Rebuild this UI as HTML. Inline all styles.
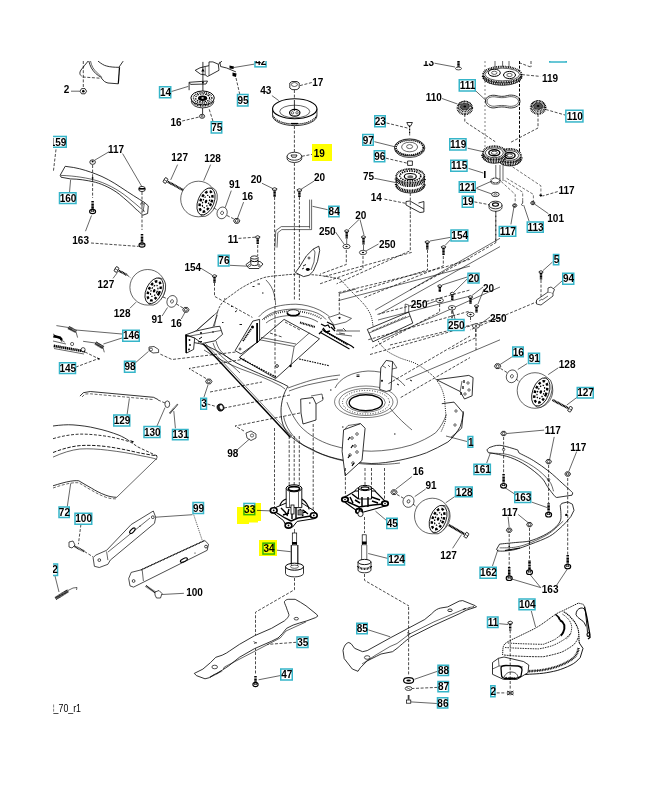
<!DOCTYPE html>
<html><head><meta charset="utf-8"><style>
html,body{margin:0;padding:0;background:#fff;overflow:hidden;}
svg{display:block;font-family:"Liberation Sans",sans-serif;}
</style></head><body>
<svg width="652" height="800" viewBox="0 0 652 800">
<rect width="652" height="800" fill="#fff"/>
<style>
.l{stroke:#000;stroke-width:0.8;fill:none}
.t{stroke:#000;stroke-width:0.6;fill:none}
.k{stroke:#000;stroke-width:1.2;fill:none}
.d{stroke:#000;stroke-width:0.7;fill:none;stroke-dasharray:3 1.6}
.w{stroke:#000;stroke-width:0.8;fill:#fff}
.b{fill:#000;stroke:none}
.g{stroke:#000;stroke-width:0.8;fill:#ddd}
</style>
<!-- top-left chute piece + nut 2 -->
<g id="tl">
<path class="d" d="M83.3,61 V88"/>
<path class="l" d="M88.8,61 C90,66 92,70 95.6,73.4 C97.5,75 99.5,76.5 101.7,77.7"/>
<path class="t" d="M90.5,61 C91.5,66 93.5,69.5 97,72.5 C98.5,74 100,75.5 101.7,77.2"/>
<path class="l" d="M88.2,61 C86,64 83,67 81,70 C79,73 80,75 81.5,76"/>
<path class="d" d="M82.7,77 L101.7,78.3"/>
<path class="l" d="M101.7,78.3 C103.5,81 105,82.3 108,83 L118.3,83.8"/>
<path class="k" d="M119.5,67.3 L118.3,83.8"/>
<path class="l" d="M98,61.1 C101,63.5 104,65.5 106.6,66 C110,67 114,67.3 118.9,67.3 L123.2,61.1"/>
<polygon points="86.6,91.2 85,93.8 81.6,93.8 80,91.2 81.6,88.6 85,88.6" fill="#fff" stroke="#000" stroke-width="0.8"/><circle class="b" cx="83.3" cy="91.2" r="1.3"/>
<path class="t" d="M71,91.2 H79.8"/>
</g>
<!-- handle 160 -->
<g id="h160">
<path class="w" d="M65.2,166.3 L73.7,167.5 C82,169 89,171.5 95.6,173.9 C104,177 113,182 120.9,187.4 C130,193.5 138,198.5 144.5,202.5 L148.3,205.9 L147.6,213.5 L142.9,215.2 C140,213 138.5,211 136.1,209.3 C131,204 125,199 119.2,194.1 C111,188 103,184.5 95.6,182.3 C86,180 78,179 70.3,178.9 L61,177.2 L60.2,175.2 Z"/>
<path class="t" d="M61,175.4 C75,175.8 88,178 98,181 C110,185 122,192 132,201 C136,204 140,208 144.8,211.5"/>
<path class="t" d="M144.5,202.5 L143,212"/>
<circle class="b" cx="92.6" cy="178" r="0.9"/><circle class="t" cx="142" cy="204" r="1.3"/>
<path class="d" d="M92.6,165 V198"/><path class="d" d="M142,192 V230"/>
<ellipse class="w" cx="92.6" cy="162.1" rx="2.8" ry="2.3"/><circle class="b" cx="92.6" cy="161.6" r="1"/>
<ellipse class="w" cx="142" cy="189" rx="3.4" ry="2.6"/><path class="b" d="M139,188 h6 v1.6 h-6z"/>
<path class="t" d="M108.8,151.9 L95,160"/><path class="t" d="M122.6,153.6 L141.5,186"/>


<path class="t" d="M85.5,231.2 L91.5,215.5"/><path class="d" d="M91,243 L138.6,246.4"/>
<path class="t" d="M69.5,192.4 L70.6,179.8"/>
<path class="d" d="M56,149.4 L53.4,171.3"/>
</g>
<!-- bracket 42/95, idler 75 -->
<g id="idler">
<path class="w" d="M195.2,70.3 L200,67.8 L205.2,66.5 L209,65.7 L209,61.9 L212.9,61.9 L218.3,64.2 L219,70.3 L207.5,76.5 L205.2,74.9 L200.6,74.2 Z"/>
<path class="t" d="M209,65.7 L209,75.5 M205.2,66.5 L205.2,74.9"/>
<path class="l" d="M219.8,61.9 L220.6,66.5 L226.7,68 L235.9,71.9 M218.3,64.2 L222,61"/>
<path d="M229.5,65.5 L234,66.5 L233.5,69 L229.5,68.5 Z" fill="#000"/>
<path d="M232.5,72.5 L236.5,73.5 L236,77 L232.5,76 Z" fill="#000"/>
<path class="t" d="M234,67.5 L254,64.2"/>
<path class="d" d="M236,78 L239.7,94"/>
<path class="l" d="M202.9,61.9 V91"/>
<path class="b" d="M201.2,71.5 L202.9,68.5 L204.6,71.5 Z"/>
<path class="l" d="M189.1,82.3 L207.5,81 L206,84 L190.6,84.4 Z M189.1,82.5 V90.2"/>
<circle class="b" cx="202.9" cy="82.6" r="0.9"/>
<path class="t" d="M171.5,91.5 L188.3,86.4"/>
<ellipse class="w" cx="202.6" cy="101.3" rx="11.2" ry="6.6"/>
<path style="stroke-width:1.6;stroke-dasharray:0.9 0.7" class="k" d="M191.6,99.5 C193,103.5 196,105.5 202.6,106 C209,105.5 212,103.5 213.6,99.5"/>
<ellipse class="w" cx="202.6" cy="97.9" rx="11.7" ry="6.9" style="stroke-width:1"/>
<ellipse cx="202.6" cy="97.9" rx="9.2" ry="5.3" fill="none" stroke="#000" stroke-width="1.4" stroke-dasharray="0.9 0.9"/>
<ellipse cx="202.6" cy="97.9" rx="7" ry="4" fill="none" stroke="#000" stroke-width="1.1" stroke-dasharray="1.6 1"/>
<ellipse class="b" cx="202.6" cy="98.2" rx="4.6" ry="2.8"/>
<ellipse cx="202.6" cy="98" rx="1.3" ry="0.8" fill="#fff"/>
<path class="l" d="M202.6,108 V114"/>
<ellipse class="w" cx="202.1" cy="116.3" rx="2.6" ry="2"/><circle class="t" cx="202.1" cy="116.3" r="0.9"/>
<path class="d" d="M182.2,121 L199.1,117"/>
<path class="d" d="M212.9,121 L209,108.6"/>
</g>
<!-- pulley 43 / nut 17 / washer 19 -->
<g id="p43">
<path class="d" d="M294.4,90 V104"/>
<path class="w" d="M289.8,83 L292,81.5 L297,81.5 L299.2,83 L299.2,88 L297,89.6 L292,89.6 L289.8,88 Z"/>
<ellipse class="t" cx="294.4" cy="84.5" rx="3" ry="2"/>
<path class="d" d="M300,85.6 L311.9,82.5"/>
<path class="w" d="M272.55,108.75 V115.6 A22.2,10 0 0 0 316.95,115.6 V108.75 Z"/>
<path style="stroke-dasharray:1.2 0.8" class="k" d="M273,115.6 A22,10 0 0 0 316.5,115.6"/>
<ellipse style="stroke-width:1.1" class="w" cx="294.75" cy="108.75" rx="22.2" ry="10"/>
<ellipse class="t" cx="294.75" cy="111.5" rx="15" ry="6.3"/>
<ellipse style="stroke-width:1.2" class="w" cx="294.75" cy="112.8" rx="5.2" ry="3.4"/>
<circle class="t" cx="292.5" cy="112.8" r="1.2"/><circle class="t" cx="297" cy="112.8" r="1.2"/>
<path class="l" d="M294.4,100 V111"/>
<path class="k" d="M291,123.5 h7"/>
<path class="d" d="M294.4,126 V152"/>
<path class="l" d="M287.1,156.25 V158.5 A7.3,4 0 0 0 301.7,158.5 V156.25"/>
<ellipse class="w" cx="294.4" cy="156.25" rx="7.3" ry="4"/>
<path class="l" d="M291,155 h6 l-1,2.2 h-4z"/>
<path class="d" d="M301.9,156.25 L311.9,154.4"/>
<path class="d" d="M294.4,163 V300"/>
<path class="d" d="M274.6,197 V300"/>
<path class="d" d="M299.4,197 V300"/>


<path class="t" d="M261.9,183.2 L272.9,188.6"/><path class="t" d="M314.2,181 L300.7,189.5"/>
<path class="t" d="M309.6,199.6 V228.6 M311.6,199.6 V229.6"/>
<path class="t" d="M309.6,226.6 L281.3,226.6 L275.8,230.6 L274.9,247.6 M311.6,229.6 L281.8,229.6 L277.8,232.6 L277,247.6"/>
<path class="t" d="M327.7,209.7 L312.5,206.3"/>

<path class="d" d="M238.5,238.4 L255.2,237.2"/>
<path class="d" d="M257.7,245 V256"/>
<path class="w" d="M246,264.5 L250,261.5 L260,261.5 L263,264 L259,268.5 L249,268.5 Z"/>
<circle cx="249.5" cy="265.5" r="1" fill="none" stroke="#000" stroke-width="0.6"/><circle cx="259" cy="265.5" r="1" fill="none" stroke="#000" stroke-width="0.6"/>
<path class="w" d="M250.8,257.5 V264 A3.6,1.6 0 0 0 258,264 V257.5 Z"/>
<ellipse class="w" cx="254.4" cy="257.5" rx="3.6" ry="1.6"/>
<path d="M250.8,260 A3.6,1.6 0 0 0 258,260" fill="none" stroke="#000" stroke-width="1"/>
<path class="t" d="M230,265.3 L247.5,266.2"/>
</g>
<!-- 23/97/96/75/14 stack -->
<g id="stack2">
<path class="d" d="M386.6,123 L407.4,128"/>
<path style="stroke-dasharray:0.9 0.6" class="k" d="M409.6,126 V135.2"/>
<path class="w" d="M406.8,122.5 L412.4,122.5 L410.8,125.8 L408.4,125.8 Z"/>
<ellipse class="w" cx="409.6" cy="148.4" rx="15.1" ry="9"/>
<ellipse class="w" cx="409.6" cy="147.4" rx="15.1" ry="8.5"/><ellipse cx="409.6" cy="147.6" rx="13.6" ry="7.4" fill="none" stroke="#000" stroke-width="1.6" stroke-dasharray="1.2 0.8"/>
<ellipse class="t" cx="409.6" cy="147" rx="8" ry="4.8"/>
<ellipse class="t" cx="409.6" cy="146.6" rx="3" ry="2"/>
<path class="t" d="M374.4,141.7 L394.5,146.7"/>
<path class="d" d="M385.9,158.2 L407.4,163.2"/>
<path class="w" d="M407.6,161 h4.8 v4.4 h-4.8z"/>
<path class="t" d="M374.4,178.3 L395.9,182.6"/>
<path d="M396.3,176 V186 A14,7 0 0 0 424.3,186 V176 Z" fill="#fff" stroke="#000" stroke-width="0.8"/>
<path d="M396.3,178.5 A14,7 0 0 0 424.3,178.5" fill="none" stroke="#000" stroke-width="3.2" stroke-dasharray="1 0.7"/>
<path d="M396.3,184 A14,7 0 0 0 424.3,184" fill="none" stroke="#000" stroke-width="3" stroke-dasharray="1 0.7"/>
<ellipse cx="410.3" cy="176" rx="14" ry="7" fill="#fff" stroke="#000" stroke-width="1.8" stroke-dasharray="1 0.6"/>
<ellipse cx="410.3" cy="176" rx="10.5" ry="5" fill="none" stroke="#000" stroke-width="1.6" stroke-dasharray="1.4 1"/>
<ellipse cx="410.3" cy="176.5" rx="6" ry="3" fill="#fff" stroke="#000" stroke-width="1.2"/>
<ellipse cx="410.3" cy="176.8" rx="3" ry="1.6" fill="#666"/>
<path class="d" d="M410.3,193 V215"/>
<path class="d" d="M384.4,199.1 L406,203.4"/>
<path class="l" d="M406,201.5 L410,201 L423.9,209 L423.9,212 L420,212.5 L406,205 Z M418.5,203 L423.9,201.5 V209"/>
</g>
<path d="M167.8,181.7 L183,190" stroke="#000" stroke-width="2.3" stroke-dasharray="1.1 0.4"/>
<g transform="translate(165.5,180.5) rotate(28.5)"><rect x="-1.6" y="-2.6" width="3.2" height="5.2" rx="0.8" fill="#fff" stroke="#000" stroke-width="0.8"/><path d="M-1.6,0 h3.2" stroke="#000" stroke-width="0.5"/></g>
<path class="d" d="M183,190 L196,196"/>
<circle cx="198.5" cy="199" r="17.8" fill="#fff" stroke="#000" stroke-width="0.6"/>
<g transform="translate(206.0,201.5) rotate(22)"><ellipse cx="1.8" rx="8.5" ry="15" fill="#fff" stroke="#000" stroke-width="0.6"/><ellipse rx="8" ry="14.2" fill="#fff" stroke="#000" stroke-width="0.8"/><ellipse rx="5.4" ry="10.8" fill="none" stroke="#000" stroke-width="2.4" stroke-dasharray="2.6 2.2"/><ellipse rx="3" ry="6.5" fill="none" stroke="#000" stroke-width="1.2" stroke-dasharray="1.5 1.5"/><ellipse rx="1.2" ry="1.8" fill="#000"/></g>
<path class="d" d="M214,208 L218,210.5"/>
<g transform="translate(222.1,212.9) rotate(20)"><ellipse rx="5" ry="6" fill="#fff" stroke="#000" stroke-width="0.6"/><ellipse rx="1.4" ry="1.7" fill="none" stroke="#000" stroke-width="0.6"/></g>
<path class="d" d="M227,215.5 L234,219"/>
<polygon points="239.90,220.90 238.30,223.26 235.10,223.26 233.50,220.90 235.10,218.54 238.30,218.54" fill="#fff" stroke="#000" stroke-width="0.8"/><circle cx="236.7" cy="220.9" r="1.44" fill="none" stroke="#000" stroke-width="0.7"/>
<path class="t" d="M177.6,164.6 L170.7,179.9"/>
<path class="t" d="M210.6,164.6 L203.7,180.7"/>
<path class="t" d="M231.3,190.6 L225.2,207.5"/>
<path class="t" d="M243.6,202.1 L237.5,218.3"/>
<path d="M118.8,270.7 L127,275" stroke="#000" stroke-width="2.3" stroke-dasharray="1.1 0.4"/>
<g transform="translate(116.5,269.5) rotate(27.6)"><rect x="-1.6" y="-2.6" width="3.2" height="5.2" rx="0.8" fill="#fff" stroke="#000" stroke-width="0.8"/><path d="M-1.6,0 h3.2" stroke="#000" stroke-width="0.5"/></g>
<path class="d" d="M127,275 L131,278"/>
<circle cx="147.7" cy="287.3" r="17.8" fill="#fff" stroke="#000" stroke-width="0.6"/>
<g transform="translate(154.2,290.8) rotate(25)"><ellipse cx="1.8" rx="8.5" ry="14.5" fill="#fff" stroke="#000" stroke-width="0.6"/><ellipse rx="8" ry="13.7" fill="#fff" stroke="#000" stroke-width="0.8"/><ellipse rx="5.4" ry="10.3" fill="none" stroke="#000" stroke-width="2.4" stroke-dasharray="2.6 2.2"/><ellipse rx="3" ry="6.0" fill="none" stroke="#000" stroke-width="1.2" stroke-dasharray="1.5 1.5"/><ellipse rx="1.2" ry="1.8" fill="#000"/></g>
<path class="d" d="M163,297 L168,299"/>
<g transform="translate(172,301.4) rotate(20)"><ellipse rx="5" ry="6" fill="#fff" stroke="#000" stroke-width="0.6"/><ellipse rx="1.4" ry="1.7" fill="none" stroke="#000" stroke-width="0.6"/></g>
<path class="d" d="M176.5,304 L183,308"/>
<polygon points="189.10,309.80 187.50,312.16 184.30,312.16 182.70,309.80 184.30,307.44 187.50,307.44" fill="#fff" stroke="#000" stroke-width="0.8"/><circle cx="185.9" cy="309.8" r="1.44" fill="none" stroke="#000" stroke-width="0.7"/>
<path class="t" d="M113,278.4 L117.6,272.3"/>
<path class="t" d="M129.9,308.3 L136,302.2"/>
<path class="t" d="M162.1,316 L167.5,307.5"/>
<path class="t" d="M181.3,319 L185.1,312.1"/>
<polygon points="500.80,366.20 499.20,368.56 496.00,368.56 494.40,366.20 496.00,363.84 499.20,363.84" fill="#fff" stroke="#000" stroke-width="0.8"/><circle cx="497.6" cy="366.2" r="1.44" fill="none" stroke="#000" stroke-width="0.7"/>
<path class="d" d="M500.5,368.5 L507,372.5"/>
<g transform="translate(511.9,376.3) rotate(20)"><ellipse rx="5.5" ry="6.5" fill="#fff" stroke="#000" stroke-width="0.6"/><ellipse rx="1.4" ry="1.7" fill="none" stroke="#000" stroke-width="0.6"/></g>
<path class="d" d="M516,379 L521,383"/>
<circle cx="535" cy="390.5" r="17.8" fill="#fff" stroke="#000" stroke-width="0.6"/>
<g transform="translate(540.8,392.0) rotate(20)"><ellipse cx="1.8" rx="8.7" ry="15.5" fill="#fff" stroke="#000" stroke-width="0.6"/><ellipse rx="8.2" ry="14.7" fill="#fff" stroke="#000" stroke-width="0.8"/><ellipse rx="5.6" ry="11.3" fill="none" stroke="#000" stroke-width="2.4" stroke-dasharray="2.6 2.2"/><ellipse rx="3.1999999999999993" ry="7.0" fill="none" stroke="#000" stroke-width="1.2" stroke-dasharray="1.5 1.5"/><ellipse rx="1.2" ry="1.8" fill="#000"/></g>
<path d="M567.8,408.0 L552.4,399.9" stroke="#000" stroke-width="2.3" stroke-dasharray="1.1 0.4"/>
<g transform="translate(570.1,409.2) rotate(-152.3)"><rect x="-1.6" y="-2.6" width="3.2" height="5.2" rx="0.8" fill="#fff" stroke="#000" stroke-width="0.8"/><path d="M-1.6,0 h3.2" stroke="#000" stroke-width="0.5"/></g>
<path class="t" d="M511.9,356.9 L500.1,364.5"/>
<path class="t" d="M527.1,363.6 L517.8,369.5"/>
<path class="t" d="M558.3,367.8 L548.2,374.6"/>
<path class="t" d="M576.9,397.4 L566.8,405"/>
<polygon points="397.20,492.20 395.60,494.56 392.40,494.56 390.80,492.20 392.40,489.84 395.60,489.84" fill="#fff" stroke="#000" stroke-width="0.8"/><circle cx="394" cy="492.2" r="1.44" fill="none" stroke="#000" stroke-width="0.7"/>
<path class="d" d="M397,494.5 L404,498.5"/>
<g transform="translate(408.5,501.4) rotate(20)"><ellipse rx="5.5" ry="6" fill="#fff" stroke="#000" stroke-width="0.6"/><ellipse rx="1.4" ry="1.7" fill="none" stroke="#000" stroke-width="0.6"/></g>
<path class="d" d="M413,504 L418,508"/>
<circle cx="432.3" cy="516" r="17.8" fill="#fff" stroke="#000" stroke-width="0.6"/>
<g transform="translate(438.1,519.0) rotate(20)"><ellipse cx="1.8" rx="8.5" ry="15" fill="#fff" stroke="#000" stroke-width="0.6"/><ellipse rx="8" ry="14.2" fill="#fff" stroke="#000" stroke-width="0.8"/><ellipse rx="5.4" ry="10.8" fill="none" stroke="#000" stroke-width="2.4" stroke-dasharray="2.6 2.2"/><ellipse rx="3" ry="6.5" fill="none" stroke="#000" stroke-width="1.2" stroke-dasharray="1.5 1.5"/><ellipse rx="1.2" ry="1.8" fill="#000"/></g>
<path d="M464.1,533.9 L448.5,524.9" stroke="#000" stroke-width="2.3" stroke-dasharray="1.1 0.4"/>
<g transform="translate(466.4,535.2) rotate(-150.1)"><rect x="-1.6" y="-2.6" width="3.2" height="5.2" rx="0.8" fill="#fff" stroke="#000" stroke-width="0.8"/><path d="M-1.6,0 h3.2" stroke="#000" stroke-width="0.5"/></g>
<path class="t" d="M411.9,476.6 L396,489"/>
<path class="t" d="M425.7,489 L414.7,496.6"/>
<path class="t" d="M454.7,496.6 L445.7,502.8"/>
<path class="t" d="M452.6,548.3 L461.6,534.5"/>
<path d="M92.6,201 V210" stroke="#000" stroke-width="2.5" stroke-dasharray="1.1 0.35"/>
<ellipse cx="92.6" cy="211.5" rx="3" ry="2.1" fill="#fff" stroke="#000" stroke-width="1.1"/>
<path d="M90.8,211.2 h3.5999999999999996 M91.69999999999999,210 v1.7999999999999998 M93.5,210 v1.7999999999999998" stroke="#000" stroke-width="0.7"/>
<path d="M274.6,190.2 V197" stroke="#000" stroke-width="2.4" stroke-dasharray="1.2 0.3"/>
<path d="M272.3,188.66 Q274.6,186.68 276.90000000000003,188.66 L276.44,190.2 L272.76000000000005,190.2 Z" fill="#fff" stroke="#000" stroke-width="0.8"/>
<path d="M299.4,191.2 V197" stroke="#000" stroke-width="2.4" stroke-dasharray="1.2 0.3"/>
<path d="M297.09999999999997,189.66 Q299.4,187.68 301.7,189.66 L301.23999999999995,191.2 L297.56,191.2 Z" fill="#fff" stroke="#000" stroke-width="0.8"/>
<path d="M257.7,238.2 V244.3" stroke="#000" stroke-width="2.4" stroke-dasharray="1.2 0.3"/>
<path d="M255.5,236.66 Q257.7,234.68 259.9,236.66 L259.46,238.2 L255.94,238.2 Z" fill="#fff" stroke="#000" stroke-width="0.8"/>
<path d="M142,234 V243.5" stroke="#000" stroke-width="2.5" stroke-dasharray="1.1 0.35"/>
<ellipse cx="142" cy="245.0" rx="3" ry="2.1" fill="#fff" stroke="#000" stroke-width="1.1"/>
<path d="M140.2,244.7 h3.5999999999999996 M141.1,243.5 v1.7999999999999998 M142.9,243.5 v1.7999999999999998" stroke="#000" stroke-width="0.7"/>
<path class="t" d="M271.9,95.6 L278.75,100.6"/><g id="deck">
<!-- outer top arc of deck (left lobe) -->
<path class="t" style="stroke-dasharray:2.6 1.1;stroke-width:0.7" d="M217.5,312 C219,307 221,304 223,301.8 C227,298 230,296 234.1,293.2 C238,290 242,287.5 246.3,285.2 C252,282 258,279.5 265,277.3 C269,276.5 273,276 276,275.8 C279,275.5 281,275.4 282,275.3 C288,274.5 293,274.2 298.1,274.2 C306,274.3 312,274.6 318.8,275.3 C326,276.3 333,277.5 340,279"/>

<path class="t" d="M217.5,312 L197.3,330 L187.5,336.2 M217.5,312 L216.3,316.5 L214.4,326.3"/>
<!-- dome line -->
<path class="t" d="M265.9,279.9 C270,284 273,289 274,293.7 C275,298 275.6,302 275.6,305.2"/>

<path d="M340.0,279.0 C341.8,280.9 347.3,287.1 350.7,290.7 C354.1,294.3 357.6,297.4 360.4,300.4 C363.2,303.4 365.5,305.9 367.3,308.7 C369.1,311.5 370.4,313.8 371.4,317.0 C372.4,320.2 372.6,324.5 373.5,328.0 C374.4,331.5 374.6,334.4 376.5,338.0 C378.4,341.6 381.4,346.2 385.2,349.5 C388.9,352.8 393.9,355.1 399.0,357.5 C404.1,359.9 410.6,360.9 416.0,363.7 C421.4,366.5 427.5,371.2 431.3,374.5 C435.1,377.8 436.9,380.4 439.0,383.7 C441.1,387.0 442.6,390.6 443.6,394.4 C444.6,398.2 444.9,402.4 445.2,406.7 C445.5,411.0 446.2,415.8 445.5,420.0 C444.8,424.2 441.8,430.0 441.0,432.0" fill="none" stroke="#000" stroke-width="0.85" stroke-dasharray="1.1 1.1"/>
<!-- right flange -->
<path class="l" d="M441.8,403.7 L454,402.1 L463.3,412.9 L461.7,428.2 L451,437.4"/>
<circle class="t" cx="456" cy="411" r="1.2"/><circle class="t" cx="455" cy="425" r="1.2"/>
<!-- outer big bottom curve -->
<path class="l" d="M309.9,448.2 C318,453 327,456.5 337.5,458.9 C348,461.5 360,463 371.2,463.5 C381,463.5 390,462 398.8,460.4 C408,458.5 418,456 426.4,452.8 C434,449.5 441,446 447.9,442 C453,438 457,432 460.2,426.7 C462,421 463,416 463.3,411.3"/>
<path class="t" d="M283.5,416 C285.5,427 292,437 304,445.5 C318,454.5 338,460.5 355,463 C368,465 385,465 400,463"/>
<!-- inner surface edge -->
<path class="t" d="M286.9,402.1 C291,413 295,420 300.7,426.7 C309,435 319,441 331.3,445.1 C344,449 357,451 371.2,451.2 C385,451 398,449 411.1,445.1 C421,441.5 429,437.5 435.6,432.8 C441,427 444,421 446.4,414.4"/>
<!-- spindle opening right -->
<ellipse cx="366" cy="401.8" rx="31.5" ry="15.8" fill="none" stroke="#000" stroke-width="0.5"/>
<ellipse cx="366" cy="402" rx="27" ry="13.5" fill="none" stroke="#000" stroke-width="0.5"/>
<ellipse cx="366" cy="402.2" rx="23.5" ry="11.8" fill="none" stroke="#000" stroke-width="0.9" stroke-dasharray="0.8 1.8"/>
<ellipse cx="365.8" cy="402.8" rx="16.6" ry="8" fill="none" stroke="#000" stroke-width="1.4"/>
<ellipse cx="365.8" cy="402.6" rx="19.5" ry="9.6" fill="none" stroke="#000" stroke-width="0.5"/>
<path class="t" d="M335,388 C340,378 352,372 368,371 C385,371 398,377 405,386"/>
<path class="t" d="M390,408 C398,418 405,424 412,430"/>
<!-- bottom vertical bracket w holes -->
<path class="w" d="M342.1,451.2 L343.6,429.8 L360.5,423.6 L365.1,428.2 L362,460.4 L345.2,475.8 Z"/>
<path class="t" d="M345,429 L348,425.5 L360.5,423.6"/>
<circle class="t" cx="352" cy="438" r="1.3"/><circle class="t" cx="355" cy="446" r="1.3"/><circle class="t" cx="350" cy="455" r="1.3"/><circle class="t" cx="353" cy="463" r="1.3"/><circle class="t" cx="357" cy="434" r="1.3"/><circle class="t" cx="357" cy="452" r="1.3"/>
<path class="k" d="M348,440 l2,-3 M351,448 l2,-3 M348,458 l2,-3 M352,466 l2,-3"/>
<!-- right angled bracket (upper right of right lobe) -->
<path class="w" d="M436.6,379.7 L468.8,375.4 L473.1,377.6 L472.1,395.8 L464.5,399 L460.2,391.5 L443.1,383 Z"/>

<circle class="t" cx="468" cy="383" r="1.2"/><circle class="t" cx="469" cy="390" r="1.2"/><circle class="t" cx="465" cy="394" r="1.2"/>
<path class="k" d="M464,380 v3 M463,386 v3 M461,392 v3"/><path class="t" d="M460.2,391.5 L462,381"/>
<!-- left vertical bracket in deck (near 300,400) -->
<path class="w" d="M300.7,399.1 L313,397.5 L316,404 L316,420 L303,424 L301,413 Z"/>
<path class="t" d="M311,396 L322,394 L323,400 L316,404"/>
<!-- upright bracket near (368,330) -->
<path class="w" d="M380.8,367.9 L386.2,360.4 L392.6,361.5 L391,390 L386.2,391.5 L379.7,389.4 Z"/>
<path class="t" d="M392.6,361.5 L396.9,367.9 L392,369 M383,366 l3,2 M388,365 l2,2"/>
<!-- angle iron right of spindle -->
<path class="w" d="M367.3,329.4 L405,313.6 L408.7,312.1 L412.8,323.1 L372.8,341.8 Z"/>
<path class="t" d="M405.2,304 L408.7,305 L408.7,312.1 M405.2,304 L405,313.6 M369,333 L410,316" /><path d="M372,331 L406,316.5" stroke="#000" stroke-width="1.1" stroke-dasharray="0.6 0.9"/>
<!-- left lobe lower skirt -->
<path class="l" d="M190,342 C197,343 203,344 208.4,346.6 C218,351 226,356 236,362.7 C246,368 256,372 265.9,376.5 C275,380 282,383 288,386.4"/>
<path class="t" d="M204,350 C215,357 228,364 241,369 C255,374 268,379 281,386 L285,389"/>
<path class="l" d="M288,386.4 C284,392 281,402 281,411 C281,418 282,424 285,429 C289,436 296,441 303,445 C306,446.5 308,447.5 309.9,448.2"/>
<path class="t" d="M288,388 C296,385 305,382 312,380 C320,378 330,376 340,375"/><path class="t" d="M289,391 C297,388 306,385 314,383.5 C322,382 330,380 338,379"/>
<!-- belt guard box (tray) -->
<path class="w" d="M239.3,357.4 L284.1,319.4 L319.5,338.8 L275.6,378.5 Z"/>
<path class="t" d="M258.7,339.6 L294.2,346.4 L309.4,332.9 M294.2,346.4 L290.8,365.8 M261,337.5 L296,344"/>
<path d="M240.2,358.2 L276,377" fill="none" stroke="#000" stroke-width="1.3" stroke-dasharray="1.6 1"/>
<path d="M299.2,359 L329.6,365.8" fill="none" stroke="#000" stroke-width="1.1" stroke-dasharray="1.6 1"/>
<path class="d" d="M270,333 L282,337 M285,322 L300,330"/>
<circle cx="277" cy="366" r="1.4" fill="#fff" stroke="#000" stroke-width="0.8"/><circle cx="290.5" cy="366" r="1.2" fill="#000"/>
<!-- slotted bracket -->
<path class="w" d="M235.1,350.6 L252.8,321.1 L259.6,319.4 L259.6,340.5 L241,354 Z"/>
<path d="M257.1,323 V343" stroke="#000" stroke-width="1.8"/>
<path d="M243,341 L251,329" fill="none" stroke="#000" stroke-width="1.8" stroke-dasharray="1.2 0.7"/>
<circle cx="252.5" cy="327" r="1.5" fill="#000"/><circle cx="240" cy="349" r="1" fill="none" stroke="#000" stroke-width="0.7"/>
<!-- left bracket -->
<path class="w" d="M185.6,334.9 L195.8,331.1 L215.1,326.8 L219.9,326.3 L222.6,334.3 L215.1,340.8 L202.2,343.5 L194.7,338.1 Z"/>
<path class="w" d="M185.6,334.9 L194.7,338.1 L193.6,349.4 L186.5,353.1 Z"/>
<path d="M186.2,335 V353" stroke="#000" stroke-width="1.6"/>
<path class="t" d="M187,336.5 L221,330.5"/>
<circle cx="189.5" cy="340" r="0.9" fill="#000"/><circle cx="190" cy="345" r="0.9" fill="#000"/><circle cx="189" cy="349.5" r="0.9" fill="#000"/>
<path d="M199,339 l3,-2 M198,342 l4,-0.5" stroke="#000" stroke-width="1"/>
<circle cx="201" cy="333" r="1" fill="#000"/><circle cx="213" cy="332" r="0.8" fill="#000"/>
<path class="t" d="M196.9,330 L214,315 M213,326.8 L217.3,315"/>
<path class="t" d="M213,342.9 C214,346 215,348 216.2,350.4 C219,354 222,357 225.9,360.1 C230,364 235,368 240,373 M216,341 C217,345 218.5,348 220,350 C223,354 227,357 231,360"/>
<!-- inner ring top (spindle housing top) -->
<path class="t" d="M258.7,316.9 C264,311 269,308.5 275.6,306.7 C282,305 289,304.2 295.9,304.2 C304,304.5 312,306.5 319.5,310.1 C324,312.5 327,314.5 329.6,316.9"/>
<path class="t" d="M262,320 C267,315 272,312.5 278,311 C284,309.5 290,309 296,309 C304,309.2 311,310.5 317,313 C321,315 324,317 326,319.5"/>
<path d="M264,319 C270,314.5 278,312 290,311 C302,311 312,313 322,319" fill="none" stroke="#000" stroke-width="1.6" stroke-dasharray="0.8 1.4"/>
<path class="t" d="M266,323 C272,318 280,316 290,315.5 C300,315.5 310,317 318,322"/>
<ellipse cx="293.3" cy="312.7" rx="6" ry="3" fill="#fff" stroke="#000" stroke-width="0.8"/>
<path d="M287.3,312.7 A6,3 0 0 0 299.3,312.7" fill="none" stroke="#000" stroke-width="1.8"/>
<!-- diagonal rod -->
<path d="M203.3,344 L290.5,437.5" stroke="#000" stroke-width="1.4"/>
<path d="M205,343 L292,436" stroke="#000" stroke-width="0.5"/>
<!-- dashed lines in deck area -->
<path class="d" d="M214.5,283 V296.3 L252.4,317.4"/>






<path class="d" d="M275,306 V380"/>




<path class="d" d="M324.6,276.5 L412,252.3"/>
<path class="d" d="M338.4,292.6 L444.2,267.3 L470,259.2"/>
<path class="t" d="M338.4,300.6 L470,266.1"/>
<path class="d" d="M377.5,314.4 L470,290"/>
<path class="t" d="M378,320 L470,296"/>
<path class="d" d="M368.3,339.7 L470,311"/>
<path class="d" d="M390,345 L500,318"/>
<path class="d" d="M370,354.5 L470,326"/><path class="d" d="M388.4,383.7 L470,336.1"/><path class="d" d="M400.7,397.5 L470,357.6"/>
<path class="d" d="M363,256 V268.7 L320,283.8"/>
<path class="d" d="M346.3,250 V264.5 L320,274.2"/>
<path class="d" d="M427.5,250 V270 L355.9,292.1"/><path class="d" d="M443.3,256 V265.9 L364.2,297.6"/>
<path class="d" d="M410.3,215 V250.7 L336.6,283.8"/>
<path class="d" d="M495.8,209.4 V242.7 L465.8,260 L410,290"/>
<path class="d" d="M439.6,304 V312 L372,348"/>
<path class="d" d="M452,311 V325"/>
<path class="d" d="M475.7,329 V337.8 L449.8,349.8"/>
<path class="d" d="M476,329 V350"/>
<path class="d" d="M541,280 V300 L470,330"/>
<!-- small plate near 294-318,246-277 -->
<path class="w" d="M295.4,272.5 L299.5,267 L306.4,255.9 L313.3,249 L318.8,246.2 L319.7,250.4 L317.5,261.4 L313.3,271.1 L309.2,275.2 L303.6,276.6 Z"/>
<path class="t" d="M313.3,249 L315,252 L314,262 L311,270"/>
<ellipse cx="307.8" cy="269.5" rx="2" ry="1.4" fill="#000"/><circle cx="309" cy="258" r="1" fill="none" stroke="#000" stroke-width="0.7"/><path d="M303,266 l3,-1.5 M302,269 l2,-1" stroke="#000" stroke-width="0.9"/>
<!-- deck front left skirt lines and bottom-left curve to spindle -->


<path class="d" d="M339.3,293.5 V318.4"/><path class="t" d="M339.3,293.5 L356,289"/>
<path class="t" d="M375.2,310 L500,238.3"/><path class="t" d="M379.4,314.2 L500,246.6"/>
<path class="t" d="M382,339.8 L500,287"/><path class="t" d="M405.9,379.7 L500,339.8"/>
<!-- surface marks -->
<path d="M257.5,284 h2.5 M252.5,286.5 h2 M235,312 l2,-1.5 M239.5,324.5 h2.5 M224,299 h1.5 M222,322.5 h1.5 M262,293 h1.5 M231,306.5 h1.5" stroke="#000" stroke-width="0.9"/>
<path d="M356.5,375 h3 M356.5,376.5 h3 M381,380 l2,1.5 M381,381.5 l2,-1.5 M397,384 l2,1 M330,390 h1.5 M322,398 h1.5 M342,427 h1.5 M394,434 h1.5 M309,403 h1.5 M410,380 l2,1" stroke="#000" stroke-width="0.9"/>
<path class="d" d="M210,392 L262,382"/>
<!-- mechanism -->
<path d="M322,329.4 L351.5,346 L354,348 M320.5,332.5 L349.5,349" fill="none" stroke="#000" stroke-width="1.1"/>
<path d="M324,331 L348,345" fill="none" stroke="#000" stroke-width="1.6" stroke-dasharray="1.2 0.8"/>
<path d="M300,322.5 L315,327" fill="none" stroke="#000" stroke-width="2" stroke-dasharray="1 0.6"/>
<path d="M321,324 l4,2 l3,-1 l2,3 M323,328 l3,4 l4,-1 M319,334 l3,-3 M327,322 l6,3 l2,4 M331,327 l4,4" fill="none" stroke="#000" stroke-width="1.3"/>
<path d="M328.5,317.5 L339.6,313.8 L351.5,318.4 L346,322 L334,325 Z" fill="#fff" stroke="#000" stroke-width="0.6"/>
<circle cx="339.5" cy="317.8" r="1.1" fill="#000"/>
<path d="M337,330 l6,0 M339,333 l6,1 M343,328 l3,3" stroke="#000" stroke-width="0.7"/>
<path class="t" d="M336,331 L360,331 M336,334 L352,336"/>
</g>
<path d="M458.5,61.1 V68.5" stroke="#000" stroke-width="2.4" stroke-dasharray="1.2 0.3"/>
<ellipse cx="458.5" cy="68.5" rx="3" ry="1.4" fill="#fff" stroke="#000" stroke-width="0.7"/>
<path class="t" d="M434.5,63.2 L455,67" />
<path style="stroke-width:0.5;stroke-dasharray:2 2" class="d" d="M485,61 V150"/>
<path style="stroke-width:1" class="d" d="M519.5,61 V153"/>
<path class="t" d="M495,61 V67 M502.6,61 V67 M509,61 V68" />
<path class="d" d="M519,62.6 L531,67.2 M531,61 V67" />
<path d="M483.3,74.5 V77.5 A19,7.8 0 0 0 521.3,77.5 V74.5 Z" fill="#fff" stroke="#000" stroke-width="0.7"/>
<path d="M483.3,76.0 A19,7.8 0 0 0 521.3,76.0" fill="none" stroke="#000" stroke-width="3" stroke-dasharray="0.9 0.9"/>
<ellipse cx="502.3" cy="74.5" rx="19" ry="7.8" fill="#fff" stroke="#000" stroke-width="2" stroke-dasharray="0.9 0.8"/>
<ellipse cx="502.3" cy="74.5" rx="17.2" ry="6.3" fill="#fff" stroke="#000" stroke-width="0.6"/>
<ellipse cx="494.3" cy="72.8" rx="6" ry="3.6" fill="#fff" stroke="#000" stroke-width="1"/>
<ellipse cx="494.3" cy="72.8" rx="2.7" ry="1.62" fill="none" stroke="#000" stroke-width="0.6"/>
<ellipse cx="509.5" cy="75" rx="6" ry="3.6" fill="#fff" stroke="#000" stroke-width="1"/>
<ellipse cx="509.5" cy="75" rx="2.7" ry="1.62" fill="none" stroke="#000" stroke-width="0.6"/>
<path class="d" d="M521.9,74.6 L540.3,76.4" />
<path d="M485.5,101 C485.5,96.5 491,94.5 496,95.5 C499.5,96.5 504,96.8 507.5,95.5 C512.5,94.2 520,96 520,101.3 C520,106.5 513,109 507.5,107.6 C504,106.6 499.5,106.8 496,107.6 C490.5,109 485.5,106 485.5,101 Z" fill="none" stroke="#000" stroke-width="0.8"/>
<path d="M487,101 C487,97.6 491.5,96.2 496,97 C499.5,97.8 504,98 507.5,97 C512,95.8 518.5,97.5 518.5,101.3 C518.5,105.2 512.5,107.2 507.5,106 C504,105.2 499.5,105.3 496,106 C491.5,107 487,104.8 487,101 Z" fill="none" stroke="#000" stroke-width="0.6"/>
<path class="t" d="M475,90.2 L486,100.5" />
<ellipse cx="464.8" cy="108.0" rx="7.2" ry="6.12" fill="#fff" stroke="#000" stroke-width="2.2" stroke-dasharray="0.8 0.7"/>
<ellipse cx="464.8" cy="106.5" rx="6.2" ry="5.12" fill="#fff" stroke="#000" stroke-width="1.6" stroke-dasharray="0.8 0.7"/>
<ellipse cx="464.8" cy="106.5" rx="4.6" ry="3.52" fill="#555" stroke="#000" stroke-width="1.2" stroke-dasharray="0.7 0.7"/>
<ellipse cx="464.8" cy="106.5" rx="1.4" ry="1.1" fill="#000"/>
<ellipse cx="538.1" cy="107.5" rx="7.2" ry="6.12" fill="#fff" stroke="#000" stroke-width="2.2" stroke-dasharray="0.8 0.7"/>
<ellipse cx="538.1" cy="106" rx="6.2" ry="5.12" fill="#fff" stroke="#000" stroke-width="1.6" stroke-dasharray="0.8 0.7"/>
<ellipse cx="538.1" cy="106" rx="4.6" ry="3.52" fill="#555" stroke="#000" stroke-width="1.2" stroke-dasharray="0.7 0.7"/>
<ellipse cx="538.1" cy="106" rx="1.4" ry="1.1" fill="#000"/>
<path class="t" d="M442,98.5 L457.5,104" />
<path class="d" d="M545.8,109.5 L565,115" />
<path class="d" d="M464.8,114 V121.5 L495.2,141.7" />
<path class="d" d="M538,114 V128 L510,142.7" />
<path d="M498.40000000000003,155.5 V159.5 A11.2,6.5 0 0 0 520.8000000000001,159.5 V155.5 Z" fill="#fff" stroke="#000" stroke-width="0.7"/>
<path d="M498.40000000000003,157.5 A11.2,6.5 0 0 0 520.8000000000001,157.5" fill="none" stroke="#000" stroke-width="4" stroke-dasharray="0.8 0.8"/>
<ellipse cx="509.6" cy="155.5" rx="11.2" ry="6.5" fill="#fff" stroke="#000" stroke-width="2" stroke-dasharray="0.9 0.7"/>
<ellipse cx="509.6" cy="155.5" rx="9" ry="4.9" fill="#fff" stroke="#000" stroke-width="0.7"/>
<ellipse cx="509.6" cy="155.5" rx="5.5" ry="3" fill="#fff" stroke="#000" stroke-width="1.4"/>
<ellipse cx="509.6" cy="155.5" rx="3" ry="1.6" fill="none" stroke="#000" stroke-width="0.7"/>
<path d="M483.1,152.8 V156.8 A11.2,6.5 0 0 0 505.5,156.8 V152.8 Z" fill="#fff" stroke="#000" stroke-width="0.7"/>
<path d="M483.1,154.8 A11.2,6.5 0 0 0 505.5,154.8" fill="none" stroke="#000" stroke-width="4" stroke-dasharray="0.8 0.8"/>
<ellipse cx="494.3" cy="152.8" rx="11.2" ry="6.5" fill="#fff" stroke="#000" stroke-width="2" stroke-dasharray="0.9 0.7"/>
<ellipse cx="494.3" cy="152.8" rx="9" ry="4.9" fill="#fff" stroke="#000" stroke-width="0.7"/>
<ellipse cx="494.3" cy="152.8" rx="5.5" ry="3" fill="#fff" stroke="#000" stroke-width="1.4"/>
<ellipse cx="494.3" cy="152.8" rx="3" ry="1.6" fill="none" stroke="#000" stroke-width="0.7"/>
<path class="t" d="M467.6,148.2 L484.2,151.9" />
<path class="t" d="M468.5,168.4 L483.3,173" />
<path style="stroke-width:1.6" class="k" d="M484.8,171 V178"/>
<path class="t" d="M495.8,165 V178 M500,165 V181 M503,165 V181" />
<path style="stroke-width:0.55" class="d" d="M501.2,181.5 L515.2,194.4 V203 M504.4,180.4 L522.7,192.2 V201 M506.6,178.3 L533.4,194.4 V201 M508.7,164.3 L540.9,185.8 V194"/>
<ellipse cx="495.4" cy="182" rx="4.5" ry="2.2" fill="#fff" stroke="#000" stroke-width="0.6"/><ellipse cx="495.4" cy="180.5" rx="4.5" ry="2.4" fill="#fff" stroke="#000" stroke-width="1.2" stroke-dasharray="0.8 0.6"/>
<ellipse cx="495.4" cy="194.4" rx="3.8" ry="2.2" fill="#fff" stroke="#000" stroke-width="0.8"/><ellipse cx="495.4" cy="194.4" rx="1.4" ry="0.8" fill="none" stroke="#000" stroke-width="0.5"/>
<path class="t" d="M476.5,187.9 L492,181 M476.5,188.5 L491.8,194" />
<path d="M489,205 V207.5 A6.5,3.8 0 0 0 502,207.5 V205" fill="#fff" stroke="#000" stroke-width="0.7"/><ellipse cx="495.5" cy="205" rx="6.5" ry="3.8" fill="#fff" stroke="#000" stroke-width="0.8"/><ellipse cx="495.5" cy="204.6" rx="3" ry="1.7" fill="#fff" stroke="#000" stroke-width="1.1"/>
<path class="d" d="M474.4,201.9 L489.4,204.7" />
<path class="d" d="M495.8,211 V242.7" />
<polygon points="516.90,205.50 515.80,207.12 513.60,207.12 512.50,205.50 513.60,203.88 515.80,203.88" fill="#fff" stroke="#000" stroke-width="0.8"/><circle cx="514.7" cy="205.5" r="0.99" fill="none" stroke="#000" stroke-width="0.7"/>
<path d="M522.7,201 v2 l-1.2,1.5 l1.2,1.5" fill="none" stroke="#000" stroke-width="0.7"/>
<polygon points="535.00,203.00 533.90,204.62 531.70,204.62 530.60,203.00 531.70,201.38 533.90,201.38" fill="#fff" stroke="#000" stroke-width="0.8"/><circle cx="532.8" cy="203" r="0.99" fill="none" stroke="#000" stroke-width="0.7"/>
<path d="M539,195 l2,-1 l1.6,1.8 l-2,1z" fill="#000"/>
<path class="d" d="M557.7,191.6 L542.6,196" />
<path class="t" d="M548.4,213.7 L534.5,204" />
<path class="t" d="M510.9,224.4 L514.1,206.2" />
<path class="t" d="M529.1,221.2 L523.7,205.1" />
<path d="M427.3,243 V249.5" stroke="#000" stroke-width="2.4" stroke-dasharray="1.2 0.3"/>
<path d="M425.1,241.6 Q427.3,239.8 429.5,241.6 L429.06,243 L425.54,243 Z" fill="#fff" stroke="#000" stroke-width="0.8"/>
<path d="M443.5,248 V255" stroke="#000" stroke-width="2.4" stroke-dasharray="1.2 0.3"/>
<path d="M441.3,246.6 Q443.5,244.8 445.7,246.6 L445.26,248 L441.74,248 Z" fill="#fff" stroke="#000" stroke-width="0.8"/>
<path class="t" d="M450.7,237.3 L430,241 M450.7,239.5 L445,245.5" />
<path d="M346.7,232 V238.5" stroke="#000" stroke-width="2.4" stroke-dasharray="1.2 0.3"/>
<path d="M344.7,230.6 Q346.7,228.8 348.7,230.6 L348.3,232 L345.09999999999997,232 Z" fill="#fff" stroke="#000" stroke-width="0.8"/>
<path d="M363.5,238 V244.5" stroke="#000" stroke-width="2.4" stroke-dasharray="1.2 0.3"/>
<path d="M361.5,236.6 Q363.5,234.8 365.5,236.6 L365.1,238 L361.9,238 Z" fill="#fff" stroke="#000" stroke-width="0.8"/>
<ellipse cx="346.5" cy="246.5" rx="3.6" ry="2.2" fill="#fff" stroke="#000" stroke-width="0.7"/><ellipse cx="346.5" cy="246.5" rx="1.2" ry="0.8" fill="#000"/>
<ellipse cx="363" cy="252.5" rx="3.6" ry="2.2" fill="#fff" stroke="#000" stroke-width="0.7"/><ellipse cx="363" cy="252.5" rx="1.2" ry="0.8" fill="#000"/>
<path class="t" d="M346.7,239 V244 M363.5,245 V250" />
<path class="t" d="M359,219.5 L348.5,229.5 M360,219.5 L364,235" />
<path class="t" d="M335.5,232 L344,244 M378.5,244 L366,251" />
<path d="M439.8,287 V292" stroke="#000" stroke-width="2.4" stroke-dasharray="1.2 0.3"/>
<path d="M437.8,285.6 Q439.8,283.8 441.8,285.6 L441.40000000000003,287 L438.2,287 Z" fill="#fff" stroke="#000" stroke-width="0.8"/>
<path d="M452.3,294.5 V300" stroke="#000" stroke-width="2.4" stroke-dasharray="1.2 0.3"/>
<path d="M450.3,293.1 Q452.3,291.3 454.3,293.1 L453.90000000000003,294.5 L450.7,294.5 Z" fill="#fff" stroke="#000" stroke-width="0.8"/>
<path d="M470.5,298 V304" stroke="#000" stroke-width="2.4" stroke-dasharray="1.2 0.3"/>
<path d="M468.5,296.6 Q470.5,294.8 472.5,296.6 L472.1,298 L468.9,298 Z" fill="#fff" stroke="#000" stroke-width="0.8"/>
<path d="M476.5,307 V312.5" stroke="#000" stroke-width="2.4" stroke-dasharray="1.2 0.3"/>
<path d="M474.5,305.6 Q476.5,303.8 478.5,305.6 L478.1,307 L474.9,307 Z" fill="#fff" stroke="#000" stroke-width="0.8"/>
<ellipse cx="439.8" cy="300.5" rx="3.6" ry="2.2" fill="#fff" stroke="#000" stroke-width="0.7"/><ellipse cx="439.8" cy="300.5" rx="1.2" ry="0.8" fill="#000"/>
<ellipse cx="452" cy="307.8" rx="3.6" ry="2.2" fill="#fff" stroke="#000" stroke-width="0.7"/><ellipse cx="452" cy="307.8" rx="1.2" ry="0.8" fill="#000"/>
<ellipse cx="470.5" cy="314.5" rx="3.6" ry="2.2" fill="#fff" stroke="#000" stroke-width="0.7"/><ellipse cx="470.5" cy="314.5" rx="1.2" ry="0.8" fill="#000"/>
<ellipse cx="476" cy="326" rx="3.6" ry="2.2" fill="#fff" stroke="#000" stroke-width="0.7"/><ellipse cx="476" cy="326" rx="1.2" ry="0.8" fill="#000"/>
<path class="t" d="M467.2,277 L442,285 M467.2,279 L454,292" />
<path class="t" d="M483,287 L472,295.5 M484,289 L478,304" />
<path class="t" d="M427.5,304 L436,301" />
<path class="t" d="M455,319 L452.5,310" />
<path class="t" d="M490,317 L479,325" />
<path class="d" d="M452,310.5 V318 M470.5,317 V322" />
<path d="M541,273 V279.5" stroke="#000" stroke-width="2.4" stroke-dasharray="1.2 0.3"/>
<path d="M539,271.6 Q541,269.8 543,271.6 L542.6,273 L539.4,273 Z" fill="#fff" stroke="#000" stroke-width="0.8"/>
<path class="t" d="M552.5,262 L543,270.5 M562,281 L553,289" />
<path d="M536.5,300 L548,292 L553,293 L553,296 L541,305 L536.5,304 Z" fill="#fff" stroke="#000" stroke-width="0.7"/><path d="M548,292 L548,288 L551,287 L554.5,289.5 L553,293" fill="#fff" stroke="#000" stroke-width="0.7"/><path d="M539,301 l3,-2 M542,300 l3,-2 M545,298 l3,-2" stroke="#000" stroke-width="0.6"/>
<path class="t" d="M56.4,325.6 L68.4,327.5" />
<path style="stroke-width:3.4;stroke-dasharray:0.8 0.35" class="k" d="M68.4,327.5 L76,331.5"/>
<path class="t" d="M75.8,331.2 L77.6,337.6" />
<path class="t" d="M83.1,341.3 L96,343.1" />
<path style="stroke-width:3.6;stroke-dasharray:0.8 0.35" class="k" d="M95.5,343 L103.5,347.8"/>
<path class="t" d="M103,347.5 L104.3,352.3" />
<path class="t" d="M122,334 L76,330 M122,338 L103.4,344" />
<path class="t" d="M53,333.9 L64.7,342.2 M53,337 L60,338 L62,342" />
<circle cx="72.1" cy="344" r="1.6" fill="#fff" stroke="#000" stroke-width="0.6"/>
<path style="stroke-width:2.6;stroke-dasharray:1.4 0.5" class="k" d="M53.7,345.9 L85,351.4"/>
<path style="stroke-width:2.4" class="k" d="M53.5,336 L60,337.5 L62,340"/>
<path class="t" d="M54,348.5 L84,354" />
<circle cx="83.1" cy="349.6" r="2" fill="#fff" stroke="#000" stroke-width="0.7"/>
<path class="t" d="M53,341 L66,344" />
<path class="d" d="M85,352 L98.8,358.8" />
<path d="M97,357.5 l3,1 l-1,1.8z" fill="#000"/>
<path class="d" d="M75.8,367.1 L97.9,358.8" />
<path d="M149,347 L154,346.5 L158.6,349.5 L158.6,352.5 L153,353 L149,350.5 Z" fill="#fff" stroke="#000" stroke-width="0.7"/><circle cx="151" cy="349.5" r="1.5" fill="none" stroke="#000" stroke-width="0.6"/>
<path class="t" d="M134.7,363.4 L148.5,351.4" />
<path class="d" d="M160.4,354.2 L172,359.5 L236,352" />
<path class="l" d="M79.9,396.1 L83.4,392.7 L90.3,391.5 L153.5,397.3 L158.1,399.6" />
<path style="stroke-width:0.6" class="d" d="M82,397 L85,394 L90.3,393.8 L153.5,399.6"/>
<path class="d" d="M158,400 L165,403" />
<ellipse cx="167.3" cy="404.2" rx="2.4" ry="3.3" fill="#fff" stroke="#000" stroke-width="0.7"/>
<path style="stroke-width:1.6;stroke-dasharray:0.8 0.5" class="k" d="M169.6,413.4 L177.7,404.2"/>
<path class="t" d="M127.1,414.5 L129.4,398.4 M157,426 L165,407.6 M175.4,428.3 L173.8,411.1" />
<path class="l" d="M53,426 C60,425 67,424.5 73,424.9 C81,425.5 89,426.5 96,428.3 C104,430 112,432.5 119,435.2 C122,436.5 126,438.5 129.4,441" />
<path d="M130,440 l4,1.5 l-1.5,1.5z" fill="#000"/>
<path style="stroke-width:0.8" class="d" d="M53,438.7 C62,436 71,434.5 79.9,434.1 C89,434 98,435 107.5,436.4 C115,437.8 123,439.5 130.5,442.1 C133,443.5 135,445 137.4,446.7 C144,450 151,453 157,455.9"/>
<path style="stroke-width:0.9;stroke-dasharray:3.5 1.5" class="d" d="M53,452.5 C62,449 71,446.5 79.9,445.6 C89,445 98,445.5 107.5,446.7 C117,448 127,450 137.4,452.5 C144,453.8 151,455 157,455.9"/>
<path class="t" d="M53,457.1 C62,453 71,450 79.9,449 C89,448.5 98,449 107.5,450.2 C119,451.5 131,453.5 142,455.9 C148,457 153,458 157,459.4" />
<path class="t" d="M157,455.9 L157,458.2 L116.7,497.3" />
<path class="l" d="M53,485.8 C59,484 65,482 70.7,481.2 C74,480.7 76,480.5 78.8,480.8 C83,483 87,486 91.4,488.1 C96,491 100,493 105.2,495 C109,496.5 113,497.3 116.7,497.3" />
<path style="stroke-width:0.6" class="d" d="M53,488 C59,486 65,484 70.7,483.2 C74,482.7 76,482.5 78.8,482.8 C83,485 87,488 91.4,490.1 C96,493 100,495 105.2,497 C109,498.5 113,499 116.7,498.8"/>
<path class="t" d="M67.3,506.5 L70.7,483.5" />
<path d="M93.1,557.7 L94.4,566.3 L99.3,567.5 L107.9,564.3 L110.3,560.1 L154.5,523.3 L155.7,517.2 L153.3,511 L131.2,524.5 L106.6,550.3 L95.6,555.2 Z" fill="#fff" stroke="#000" stroke-width="0.7"/>
<path class="t" d="M106.6,551.5 L107.9,560.1 M108,552 L150,518" />
<ellipse cx="132.4" cy="530.7" rx="3.5" ry="1.6" transform="rotate(-45 132.4 530.7)" fill="#fff" stroke="#000" stroke-width="1.1"/>
<circle cx="152.8" cy="517.2" r="1.4" fill="none" stroke="#000" stroke-width="0.7"/><circle cx="99.3" cy="560.1" r="1.4" fill="none" stroke="#000" stroke-width="0.7"/><circle cx="140" cy="526" r="0.6" fill="#000"/>
<path d="M128.7,578.5 L130,585.9 L133.6,587.1 L207.2,550.3 L208.5,544.2 L204.8,540.5 L177.8,552.8 L141,569.9 L131.2,572.4 Z" fill="#fff" stroke="#000" stroke-width="0.7"/>
<path class="t" d="M142.2,570 L143.4,581" />
<path style="stroke-width:1.3;stroke-dasharray:0.7 0.9" class="d" d="M141,569.9 L204.8,540.5"/>
<ellipse cx="183.9" cy="560.1" rx="3.8" ry="1.6" transform="rotate(-25 183.9 560.1)" fill="#fff" stroke="#000" stroke-width="1.1"/>
<circle cx="133.6" cy="581" r="1.4" fill="none" stroke="#000" stroke-width="0.7"/><circle cx="206" cy="546.6" r="1.4" fill="none" stroke="#000" stroke-width="0.7"/><circle cx="195" cy="553" r="0.6" fill="#000"/>
<path style="stroke-width:2.2;stroke-dasharray:0.8 0.5" class="k" d="M74,546 L84.5,551.5"/>
<path d="M69,542 L73,541 L75,545 L72,548 L69,547 Z" fill="#fff" stroke="#000" stroke-width="0.7"/>
<path class="d" d="M84.5,551.5 L93.1,556.9" />
<path class="d" d="M80.9,524.5 L78.4,544.2" />
<path style="stroke-width:2;stroke-dasharray:0.8 0.5" class="k" d="M145.9,585.9 L156,593"/>
<path d="M155,592 L159,590.5 L162,593.5 L160.5,598 L156.5,598 L155,595 Z" fill="#fff" stroke="#000" stroke-width="0.7"/>
<path class="t" d="M161.8,594.5 L183.9,593.3" />
<path class="t" d="M155.7,517.2 L192.5,514.7" />
<path style="stroke-dasharray:1 1" class="d" d="M193.7,514.7 L202.3,540.5"/>
<path style="stroke-width:3.4;stroke-dasharray:0.8 0.3" class="k" d="M55.5,598.5 L68,590.8"/>
<path class="t" d="M68,590.5 L73,588 L77,587.5 L76.5,590" />
<path class="t" d="M55,576 L59,592" /><polygon points="212.00,381.50 210.40,383.86 207.20,383.86 205.60,381.50 207.20,379.14 210.40,379.14" fill="#fff" stroke="#000" stroke-width="0.8"/><circle cx="208.8" cy="381.5" r="1.44" fill="none" stroke="#000" stroke-width="0.7"/>
<path class="t" d="M204,397 L208,385" />
<g transform="translate(220.5,407.5) rotate(-20)"><ellipse rx="3.4" ry="3.6" fill="#222" stroke="#000" stroke-width="0.7"/><ellipse cx="0.8" rx="1.5" ry="2.2" fill="#fff"/></g>
<path class="d" d="M207.5,404 L216,406.5" />
<path class="d" d="M224,408 L290,395" />
<path class="d" d="M206,378.5 L189,368.5 L245,359" />
<path d="M246,433 L251,431 L256,434 L256,438 L251,440.5 L247,438 Z" fill="#fff" stroke="#000" stroke-width="0.7"/><circle cx="252" cy="435.5" r="1.6" fill="none" stroke="#000" stroke-width="0.6"/>
<path class="t" d="M237,450 L249.5,439" />
<path class="d" d="M244,431 L235,426 L300,413" />
<path class="d" d="M274.5,428 V508 M313.2,424 V512 M289.2,436 V486 M294.2,436 V486 M299.3,436 V486" />
<path d="M271.4,511.3 C273,509 276,507 279.7,505.8 L286.2,503 L301.8,503 C305,505 309,507.5 313,510 L316,513 L314.7,518.6 L297.2,521.4 L292.6,527 L286.2,526 L283.4,520.5 Z" fill="#fff" stroke="#000" stroke-width="1"/>
<path d="M286.2,488.3 V507.6 L301.8,507.6 V488.3 Z" fill="#fff" stroke="#000" stroke-width="0.9"/>
<ellipse cx="294" cy="488.3" rx="7.8" ry="3.5" fill="#fff" stroke="#000" stroke-width="1"/><ellipse cx="294" cy="488.8" rx="5.6" ry="2.2" fill="none" stroke="#000" stroke-width="1.6"/>
<path class="t" d="M289.5,492 V507 M298.5,492 V507" />
<path d="M279.7,505.8 C281,502 283,500 286.2,499 M301.8,499 C305,501 308,505 309.2,509.4" fill="none" stroke="#000" stroke-width="1.1"/>
<ellipse cx="273.7" cy="510.4" rx="3.4" ry="2.6" fill="#fff" stroke="#000" stroke-width="1.6"/><circle cx="273.7" cy="510.4" r="0.9" fill="#000"/>
<ellipse cx="313.8" cy="515.4" rx="3.4" ry="2.6" fill="#fff" stroke="#000" stroke-width="1.6"/><circle cx="313.8" cy="515.4" r="0.9" fill="#000"/>
<ellipse cx="288.5" cy="525.5" rx="3.4" ry="2.6" fill="#fff" stroke="#000" stroke-width="1.6"/><circle cx="288.5" cy="525.5" r="0.9" fill="#000"/>
<path d="M277,513 L285,518 L291,521 M291,521 L298,518 L311,516 M281,508 L286,513 M303,510 L308,514 M292,507.6 V519 M296,507.6 V519 M289,509 L287,516 M300,509 L303,516 M283,515 L289,513 M299,513 L306,512" fill="none" stroke="#000" stroke-width="1.4"/>
<rect x="291" y="505" width="3" height="9" fill="#fff" stroke="#000" stroke-width="0.8"/><rect x="298" y="510" width="5" height="5" fill="#888" stroke="#000" stroke-width="0.6"/>
<path class="t" d="M257,510.4 L271.2,510.9" />
<path class="t" d="M294.5,529 V533" />
<rect x="292.3" y="533" width="4.4" height="12" fill="#fff" stroke="#000" stroke-width="0.7"/>
<rect x="292" y="542" width="5" height="2.5" fill="#000"/>
<path d="M291.3,545 V566 M297.8,545 V566" stroke="#000" stroke-width="0.8"/>
<path d="M285.5,566.7 V573.4 A9,3.5 0 0 0 303.5,573.4 V566.7 Z" fill="#fff" stroke="#000" stroke-width="0.8"/><ellipse cx="294.5" cy="566.7" rx="9" ry="3.5" fill="#fff" stroke="#000" stroke-width="1"/><ellipse cx="294.5" cy="566.7" rx="4" ry="1.6" fill="none" stroke="#000" stroke-width="0.6"/>
<path class="t" d="M291.3,545 V566 M297.8,545 V566" />
<path class="t" d="M277,550.2 L290.7,551.7" />
<path class="d" d="M294.5,578 V589.7 L255.5,612.2 V674" />
<path class="d" d="M345.4,468 V498 M365,468 V487 M371.5,468 V490 M384.5,468 V502" />
<path d="M343,498.2 L355,491 L375,491 L386.9,503.1 L385,506 L373,509.5 L360,513 L346,503 Z" fill="#fff" stroke="#000" stroke-width="1.1"/>
<path d="M358.5,488 V499 L371.5,499 V488 Z" fill="#fff" stroke="#000" stroke-width="0.9"/><ellipse cx="365" cy="488" rx="6.5" ry="2.6" fill="#fff" stroke="#000" stroke-width="1"/><ellipse cx="365" cy="488.3" rx="4" ry="1.5" fill="none" stroke="#000" stroke-width="1.2"/>
<ellipse cx="345" cy="499.5" rx="3.2" ry="2.4" fill="#fff" stroke="#000" stroke-width="1.8"/><circle cx="345" cy="499.5" r="0.8" fill="#000"/>
<ellipse cx="385" cy="503.5" rx="3.2" ry="2.4" fill="#fff" stroke="#000" stroke-width="1.8"/><circle cx="385" cy="503.5" r="0.8" fill="#000"/>
<ellipse cx="359" cy="511" rx="3.2" ry="2.4" fill="#fff" stroke="#000" stroke-width="1.8"/><circle cx="359" cy="511" r="0.8" fill="#000"/>
<path d="M348,502 L359,507 L373,505 L383,504 M359,507 L360,511 M352,494 L358.5,499 M371.5,497 L380,500 M362,497 L362,507 M368,497 L368,507 M355,500 L360,503 M372,501 L378,503 M350,497 L353,503" stroke="#000" stroke-width="1.5" fill="none"/>
<path d="M355,491 C356,489 357,488 358.5,488 M371.5,488 C374,489 375,490 375,491" fill="none" stroke="#000" stroke-width="1"/>
<circle cx="360.5" cy="514" r="2.6" fill="#fff" stroke="#000" stroke-width="0.8"/>
<path class="d" d="M364.5,517 V533" />
<rect x="362.2" y="534.8" width="4" height="10" fill="#fff" stroke="#000" stroke-width="0.7"/><rect x="362" y="541.5" width="4.5" height="2.5" fill="#000"/>
<path class="t" d="M361.6,545 V560.8 M366.8,545 V560.8" />
<path d="M358,562 V570 A6.5,2.8 0 0 0 371,570 V562 Z" fill="#fff" stroke="#000" stroke-width="0.8"/><path d="M358,566 A6.5,2.8 0 0 0 371,566" fill="none" stroke="#000" stroke-width="2.2" stroke-dasharray="0.8 0.6"/><ellipse cx="364.5" cy="562" rx="6.5" ry="2.6" fill="#fff" stroke="#000" stroke-width="0.9"/>
<path class="d" d="M364.5,574 V580.3 L409,606" />
<path class="t" d="M386.1,520.2 L375.5,511.2 M387.7,558.4 L368.2,553.5" />
<path d="M489.2,447.6 C491.0,447.2 495.2,444.9 499.9,445.3 C504.6,445.7 514.6,449.1 517.6,449.9 L519.1,453.0 C521.5,454.3 528.7,457.6 533.7,460.7 C538.7,463.8 544.1,467.6 549.0,471.4 C553.9,475.2 559.2,480.5 562.8,483.7 C566.4,486.9 568.8,489.1 570.5,490.6 C572.2,492.1 572.4,492.5 572.8,492.9 L572,495.2 L556.7,497.5 L555.2,496.7 C554.7,496.1 553.4,494.6 552.1,492.9 C550.8,491.2 549.3,489.3 547.5,486.7 C545.7,484.1 544.9,481.1 541.3,477.5 C537.7,473.9 531.1,468.6 526.0,465.3 C520.9,462.0 515.8,459.5 510.7,457.6 C505.6,455.7 499.0,454.6 495.3,453.8 C491.6,453.0 489.5,452.9 488.4,452.7 L486.9,449.9 Z" fill="#fff" stroke="#000" stroke-width="0.8"/>
<path d="M489.2,453.0 C492.8,453.4 503.3,453.0 510.7,455.3 C518.1,457.6 527.3,462.6 533.7,466.8 C540.1,471.0 545.7,476.5 549.0,480.6 C552.3,484.7 552.8,489.5 553.6,491.3" fill="none" stroke="#000" stroke-width="0.6"/>
<circle cx="503.6" cy="449.5" r="1.2" fill="none" stroke="#000" stroke-width="0.6"/><circle cx="548.6" cy="479.6" r="1.2" fill="none" stroke="#000" stroke-width="0.6"/>
<path d="M499.6,544.1 C502.3,543.8 510.7,543.0 515.7,542.5 C520.7,542.0 524.9,542.1 529.5,541.0 C534.1,539.9 539.2,537.6 543.3,535.6 C547.4,533.6 551.2,531.1 554.0,528.7 C556.8,526.3 559.1,523.7 560.2,521.1 C561.4,518.5 560.9,516.0 560.9,513.4 C560.9,510.8 560.3,507.0 560.2,505.7 L561.7,503.4 L567.8,501.9 L572.4,504.2 L574,510.3 L570.9,516.5 L567.1,521.1 C566.0,522.2 563.2,525.5 560.2,528.0 C557.2,530.5 554.3,533.7 549.4,536.4 C544.5,539.1 536.6,541.9 531.0,544.1 C525.4,546.3 520.1,548.2 515.7,549.4 C511.4,550.5 507.8,550.7 504.9,551.0 C501.9,551.3 499.1,551.0 498.0,551.0 L496.5,549.4 Z" fill="#fff" stroke="#000" stroke-width="0.8"/>
<path d="M499.6,547.9 C502.3,547.8 510.5,548.0 515.7,547.1 C520.9,546.2 525.4,544.8 531.0,542.5 C536.6,540.2 544.0,536.9 549.4,533.3 C554.8,529.7 560.9,523.1 563.2,521.1" fill="none" stroke="#000" stroke-width="0.6"/>
<path d="M505,550.5 L520,548" stroke="#000" stroke-width="1.2"/>
<circle cx="566.3" cy="514.9" r="1.2" fill="#000"/><circle cx="509.2" cy="546.5" r="0.8" fill="#000"/><circle cx="529.5" cy="541.8" r="0.8" fill="#000"/>
<path class="d" d="M503.6,437 V474 M548.6,465 V503 M567.7,478 V555 M509.2,534 V567 M529.5,528 V560" />
<polygon points="506.50,433.50 505.05,435.63 502.15,435.63 500.70,433.50 502.15,431.37 505.05,431.37" fill="#fff" stroke="#000" stroke-width="0.8"/><circle cx="503.6" cy="433.5" r="1.30" fill="none" stroke="#000" stroke-width="0.7"/>
<polygon points="551.50,461.60 550.05,463.73 547.15,463.73 545.70,461.60 547.15,459.47 550.05,459.47" fill="#fff" stroke="#000" stroke-width="0.8"/><circle cx="548.6" cy="461.6" r="1.30" fill="none" stroke="#000" stroke-width="0.7"/>
<polygon points="570.60,474.00 569.15,476.13 566.25,476.13 564.80,474.00 566.25,471.87 569.15,471.87" fill="#fff" stroke="#000" stroke-width="0.8"/><circle cx="567.7" cy="474" r="1.30" fill="none" stroke="#000" stroke-width="0.7"/>
<polygon points="512.10,530.20 510.65,532.33 507.75,532.33 506.30,530.20 507.75,528.07 510.65,528.07" fill="#fff" stroke="#000" stroke-width="0.8"/><circle cx="509.2" cy="530.2" r="1.30" fill="none" stroke="#000" stroke-width="0.7"/>
<polygon points="532.40,524.60 530.95,526.73 528.05,526.73 526.60,524.60 528.05,522.47 530.95,522.47" fill="#fff" stroke="#000" stroke-width="0.8"/><circle cx="529.5" cy="524.6" r="1.30" fill="none" stroke="#000" stroke-width="0.7"/>
<path d="M503.6,474 V484.1" stroke="#000" stroke-width="2.5" stroke-dasharray="1.1 0.35"/>
<ellipse cx="503.6" cy="485.8" rx="3" ry="2.3" fill="#fff" stroke="#000" stroke-width="1.1"/>
<path d="M501.8,485.5 h3.5999999999999996 M502.70000000000005,484.1 v2.04 M504.5,484.1 v2.04" stroke="#000" stroke-width="0.7"/>
<path d="M548.6,503.2 V513" stroke="#000" stroke-width="2.5" stroke-dasharray="1.1 0.35"/>
<ellipse cx="548.6" cy="514.7" rx="3" ry="2.3" fill="#fff" stroke="#000" stroke-width="1.1"/>
<path d="M546.8000000000001,514.4000000000001 h3.5999999999999996 M547.7,513 v2.04 M549.5,513 v2.04" stroke="#000" stroke-width="0.7"/>
<path d="M509.2,567 V576.5" stroke="#000" stroke-width="2.5" stroke-dasharray="1.1 0.35"/>
<ellipse cx="509.2" cy="578.2" rx="3" ry="2.3" fill="#fff" stroke="#000" stroke-width="1.1"/>
<path d="M507.4,577.9000000000001 h3.5999999999999996 M508.3,576.5 v2.04 M510.09999999999997,576.5 v2.04" stroke="#000" stroke-width="0.7"/>
<path d="M529.5,560.6 V570.5" stroke="#000" stroke-width="2.5" stroke-dasharray="1.1 0.35"/>
<ellipse cx="529.5" cy="572.2" rx="3" ry="2.3" fill="#fff" stroke="#000" stroke-width="1.1"/>
<path d="M527.7,571.9000000000001 h3.5999999999999996 M528.6,570.5 v2.04 M530.4,570.5 v2.04" stroke="#000" stroke-width="0.7"/>
<path d="M567.7,555 V564.8" stroke="#000" stroke-width="2.5" stroke-dasharray="1.1 0.35"/>
<ellipse cx="567.7" cy="566.5" rx="3" ry="2.3" fill="#fff" stroke="#000" stroke-width="1.1"/>
<path d="M565.9000000000001,566.2 h3.5999999999999996 M566.8000000000001,564.8 v2.04 M568.6,564.8 v2.04" stroke="#000" stroke-width="0.7"/>
<path class="t" d="M544.1,430.1 L507,433.5 M554.2,436.9 L549.7,459 M576.7,451.5 L568.9,471" />
<path class="t" d="M486.7,463 L490.1,453.7" />
<path class="t" d="M514.9,494.2 L504.7,487.5 M531.7,502.1 L547.5,507.7" />
<path class="t" d="M508.1,516.7 L509.2,527 M518.2,514.5 L528,522.5" />
<path class="t" d="M492.4,566.2 L498,549.4" />
<path class="t" d="M540.7,587.6 L510.4,578.6 M540.7,587.6 L530,574.5 M556.5,585.4 L567.7,568.5" />
<path d="M194.3,673.4 L202.9,669.1 L210.4,662.7 L215.8,657.3 L222.2,655.2 L226.5,653 L229.7,650.9 L239.4,644.4 L254.4,635.8 L271.6,628.3 L284.5,620.8 C288,618 289.5,615 288.8,614.4 C288,611 286.5,609 286.6,607.9 C285,604 284,602 284.5,601.5 C286,599.5 287.5,599.3 288.8,599.3 L295.2,599.3 C299,601 302,603.5 306,605.8 L316.7,614.4 L317.8,616.1 L315.6,617.6 L307,620.8 L299.5,623 L293.1,625.1 L286.6,628.3 L282.3,633.7 L278,638 L271.6,641.2 L254.4,648.7 L239.4,657.3 L228.7,665.9 L222.2,670.2 L209.3,677.7 L205,678.8 L196.4,675.6 Z" fill="#fff" stroke="#000" stroke-width="0.8"/>
<path class="t" d="M223.3,669.1 L224.4,667 L280.2,638 L286,631 L306,621.9" />
<path style="stroke-width:1.4;stroke-dasharray:0.7 0.6" class="k" d="M210,677 L222,671"/>
<ellipse cx="214.7" cy="667" rx="2.8" ry="1.8" fill="#fff" stroke="#000" stroke-width="0.7"/><ellipse cx="296.3" cy="618.7" rx="2.2" ry="1.3" fill="#fff" stroke="#000" stroke-width="0.7"/>
<path class="t" d="M253.5,641.5 l3,1.6 M254,643.5 l3,-1" />
<path class="d" d="M296.3,642.3 L267.3,644.4" />
<path d="M255.5,676 V683" stroke="#000" stroke-width="2.5" stroke-dasharray="1.1 0.35"/>
<ellipse cx="255.5" cy="684.5" rx="2.6" ry="2.1" fill="#fff" stroke="#000" stroke-width="1.1"/>
<path d="M253.94,684.2 h3.12 M254.72,683 v1.7999999999999998 M256.28,683 v1.7999999999999998" stroke="#000" stroke-width="0.7"/>
<path class="t" d="M280.2,675.6 L258.5,679.8" />
<path d="M343,650.6 C344,646 346,643 348.8,642.5 L351.1,643.7 L354.6,648.3 L362.6,651.7 L367.2,650.6 L390.2,637.9 L424.7,619.5 L431.6,613.8 C435,610 438,608.5 440.8,608 L447.7,606.9 L459.2,601.1 L462.7,600.6 L475.3,605.7 L476.5,606.9 L466.1,610.3 L459.2,613.8 L433.9,625.3 L410.9,636.8 C404,642 400,646 397.1,648.3 L392.5,651.7 L381,654 L376.4,656.3 L367.2,660.9 L360.3,667.8 L358,671.3 L352.3,669 L344.2,658.6 Z" fill="#fff" stroke="#000" stroke-width="0.8"/>
<path class="t" d="M362,664 L375,655.5 L390,646.5 L397,643.5 L409.5,634 L434,621.8 L466,608.3" />
<path style="stroke-width:1.3;stroke-dasharray:0.7 0.6" class="k" d="M463,609.5 L474,606.5"/>
<ellipse cx="367.2" cy="657.5" rx="2.8" ry="1.8" fill="#fff" stroke="#000" stroke-width="0.7"/><ellipse cx="450" cy="610.3" rx="2.2" ry="1.3" fill="#fff" stroke="#000" stroke-width="0.8"/>
<path class="t" d="M407,632.5 l3,1.6 M407.5,634.5 l3,-1" />
<path class="d" d="M408.6,607 V676" />
<ellipse cx="408.6" cy="680.5" rx="5" ry="2.8" fill="#fff" stroke="#000" stroke-width="1.2"/><ellipse cx="408.6" cy="680.5" rx="2.3" ry="1" fill="#000"/>
<ellipse cx="408.6" cy="688.5" rx="3.4" ry="2" fill="#fff" stroke="#000" stroke-width="0.7"/><path d="M406.5,687.5 l4,2" stroke="#000" stroke-width="0.6"/>
<path style="stroke-width:1.8;stroke-dasharray:0.7 0.4" class="k" d="M408.6,695 V700"/>
<rect x="406.4" y="700" width="4.4" height="3.2" fill="#fff" stroke="#000" stroke-width="0.7"/>
<path class="t" d="M368.4,629.9 L390.2,636.8 M437.4,671.3 L414.4,679.3 M436.9,703.5 L410.9,701.9" />
<path class="d" d="M437.4,687.4 L412.1,688.5" />
<path d="M502.6,655.0 C502.8,653.5 502.6,648.3 503.5,646.1 C504.4,643.9 505.1,643.5 507.9,641.7 C510.7,640.0 515.3,638.1 520.3,635.6 C525.3,633.1 532.0,630.2 537.9,626.7 C543.8,623.2 551.1,617.2 555.5,614.4 C559.9,611.6 560.6,611.9 564.4,610.0 C568.2,608.1 576.1,604.2 578.4,603.1 L583.3,604.3 L584.5,606.7 L586,617 L587.5,630 L589.5,634.5 L589,637.5 L583.5,643 L583,648.4 L580.2,657.6 C577,661 575,663 571,665 C566,667.5 562,669 557.2,670.5 C552,671.8 548,672.5 543.4,673.2 C538,673.8 534,674 529.6,674.2 L525,674.6 L503,656 Z" fill="#fff" stroke="none"/>
<path d="M502.6,655.0 C502.8,653.5 502.6,648.3 503.5,646.1 C504.4,643.9 505.1,643.5 507.9,641.7 C510.7,640.0 515.3,638.1 520.3,635.6 C525.3,633.1 532.0,630.2 537.9,626.7 C543.8,623.2 551.1,617.2 555.5,614.4 C559.9,611.6 560.6,611.9 564.4,610.0 C568.2,608.1 576.1,604.2 578.4,603.1 L583.3,604.3 L584.5,606.7" fill="none" stroke="#000" stroke-width="0.9" stroke-dasharray="1.3 0.7"/>
<path d="M576,614.7 C576,611 578,608.5 581,608 C583.5,607.8 585,609 585.5,612 L587,626.4 L587.5,632.5 M576,614.7 C577,616.5 578,617.5 578.4,617.8 C580.5,619.5 582,620.5 583.3,621.5 C584.5,623 585.5,625 585.8,626.4" fill="none" stroke="#000" stroke-width="0.9"/>
<path d="M584.5,606.7 L587,618 L589.8,634 L590,637.5 L588,639" fill="none" stroke="#000" stroke-width="1.3"/>
<ellipse cx="588.3" cy="634.5" rx="1.8" ry="2.6" fill="#000"/><ellipse cx="588.3" cy="634.5" rx="0.7" ry="1.2" fill="#fff"/>
<path d="M560,620.2 C562,621 563.5,622.5 564.3,625 C564.8,628 564.3,630.5 563.1,632.5 C562.3,634 561.5,635 560.6,635.6" fill="none" stroke="#000" stroke-width="2"/>
<path d="M555.5,614.4 C558,616 559.5,618 560,620.2" fill="none" stroke="#000" stroke-width="1.6"/>
<path d="M562.5,614.1 C566,616.5 568,618.5 569.2,620.2 C571,623 571.8,625.5 571.7,627.6 C571.5,630.5 571,632.5 570.4,634.4 C569,636.5 567.5,638 566.1,639.3" fill="none" stroke="#000" stroke-width="0.8" stroke-dasharray="1.2 0.8"/>
<path d="M563.7,611.7 C567,613.5 569,615.5 571,617.8 C573,620 575,622 576,624.5 C577.5,627 578,628.5 578.4,630.7 C578.8,633 579,636 579,640 L579.3,643" fill="none" stroke="#000" stroke-width="1.1" stroke-dasharray="1.4 0.6"/>
<path d="M507.9,643 C515,643.5 522,643.8 530,644 C535,644.2 540,644.3 543.4,644.3 C548,642.5 552,641 555.4,639.2 C558,637 560,635.5 560.6,635.6" fill="none" stroke="#000" stroke-width="0.8" stroke-dasharray="1.6 0.9"/>
<path d="M505,647.5 C515,648.2 528,648.6 538.8,648.9 C544,648 549,646.8 552.6,645.6 C557,643.8 561,641.5 564.6,639.2 C567,637 569,635 571,633" fill="none" stroke="#000" stroke-width="0.8" stroke-dasharray="1.6 0.9"/>
<path d="M504,655 C515,656.2 530,656.8 543.4,656.7 C550,655.5 556,654 561.8,652.1 C566,650 570,647.5 573.8,644.7 C576.5,641.5 578,639 578.4,636.4" fill="none" stroke="#000" stroke-width="0.8" stroke-dasharray="2 0.8"/>
<path d="M579.3,643 L583,648.4 L580.2,657.6 C577,661 575,663 571,665 C566,667.5 562,669 557.2,670.5 C552,671.8 548,672.5 543.4,673.2 C538,673.8 534,674 529.6,674.2 L525,674.6" fill="none" stroke="#000" stroke-width="0.9"/>
<path d="M578.5,648 C578,652 576.5,655 573.5,658 C569,661.5 564,664 557.2,666.5 C551,668.5 545,669.8 538,670.6 C533,671 529,671.2 525,671.5" fill="none" stroke="#000" stroke-width="2.6" stroke-dasharray="0.7 0.9"/>
<path d="M578.5,648 C578,652 576.5,655 573.5,658 C569,661.5 564,664 557.2,666.5 C551,668.5 545,669.8 538,670.6 C533,671 529,671.2 525,671.5" fill="none" stroke="#000" stroke-width="0.6"/>
<path d="M492.5,662.5 L498.4,658.3 L504,657 L523.7,661.6 L528.8,665 L528,672.6 L517,679.4 L503.5,679.4 L492.5,674.3 Z" fill="#fff" stroke="#000" stroke-width="0.8"/>
<path d="M498.4,658.3 L499,666 L492.5,669 M499,666 L523,667" fill="none" stroke="#000" stroke-width="0.6"/>
<path d="M501,668 C501,666 503,665.5 506,665.5 L518,666 C521,666.5 522,668 522,670 L521,676 C519,678 516,678.5 513,678.5 L505,678.5 C502.5,678 501.5,677 501.5,675 Z" fill="#fff" stroke="#000" stroke-width="1.3"/>
<path d="M504,677 C506,673 509,672 511,672 C514,672 517,673 518,677" fill="none" stroke="#000" stroke-width="0.7"/><path d="M505,679 l1.5,-2 M510,680 v-2.5 M515,679.5 l-1,-2 M508,678 h5" stroke="#000" stroke-width="1.2"/>
<path class="d" d="M510.2,630.4 V690" />
<path d="M510.2,623.9 V630.4" stroke="#000" stroke-width="2.4" stroke-dasharray="1.2 0.3"/>
<path d="M507.9,622.22 Q510.2,620.06 512.5,622.22 L512.04,623.9 L508.36,623.9 Z" fill="#fff" stroke="#000" stroke-width="0.8"/>
<path d="M507,691 L513.5,695 M507,695 L513.5,691" stroke="#000" stroke-width="0.8"/><ellipse cx="510.2" cy="693" rx="3.2" ry="1.8" fill="none" stroke="#000" stroke-width="0.6"/>
<path class="t" d="M499.3,623.7 L508,624.5 M531.3,611 L535.6,627" />
<path class="d" d="M496.7,692.9 L506,692.9" />
<path d="M214.5,277 V283" stroke="#000" stroke-width="2.4" stroke-dasharray="1.2 0.3"/>
<path d="M212.3,275.6 Q214.5,273.8 216.7,275.6 L216.26,277 L212.74,277 Z" fill="#fff" stroke="#000" stroke-width="0.8"/>
<path class="t" d="M200.5,268 L212,275" />
<path class="t" d="M467,441.5 L446,436" />
<rect x="254.95" y="54.75" width="11.10" height="12.10" fill="#fff" stroke="#36b5c9" stroke-width="1.5"/>
<rect x="549.75" y="50.75" width="16.50" height="11.25" fill="#fff" stroke="#36b5c9" stroke-width="1.5"/>
<rect x="159.55" y="86.75" width="11.20" height="11.00" fill="#fff" stroke="#36b5c9" stroke-width="1.5"/>
<rect x="237.50" y="94.50" width="10.50" height="11.50" fill="#fff" stroke="#36b5c9" stroke-width="1.5"/>
<rect x="211.25" y="121.75" width="10.50" height="11.25" fill="#fff" stroke="#36b5c9" stroke-width="1.5"/>
<rect x="459.25" y="79.75" width="16.00" height="11.25" fill="#fff" stroke="#36b5c9" stroke-width="1.5"/>
<rect x="565.85" y="110.25" width="17.10" height="11.70" fill="#fff" stroke="#36b5c9" stroke-width="1.5"/>
<rect x="374.75" y="115.75" width="10.50" height="11.00" fill="#fff" stroke="#36b5c9" stroke-width="1.5"/>
<rect x="362.75" y="134.50" width="10.50" height="10.75" fill="#fff" stroke="#36b5c9" stroke-width="1.5"/>
<rect x="374.25" y="150.75" width="10.50" height="11.00" fill="#fff" stroke="#36b5c9" stroke-width="1.5"/>
<rect x="449.75" y="138.75" width="16.25" height="11.25" fill="#fff" stroke="#36b5c9" stroke-width="1.5"/>
<rect x="450.75" y="160.25" width="16.25" height="11.00" fill="#fff" stroke="#36b5c9" stroke-width="1.5"/>
<rect x="459.25" y="181.75" width="16.00" height="10.50" fill="#fff" stroke="#36b5c9" stroke-width="1.5"/>
<rect x="462.25" y="196.25" width="11.00" height="11.00" fill="#fff" stroke="#36b5c9" stroke-width="1.5"/>
<rect x="499.25" y="226.50" width="16.50" height="9.75" fill="#fff" stroke="#36b5c9" stroke-width="1.5"/>
<rect x="527.25" y="222.00" width="16.00" height="10.25" fill="#fff" stroke="#36b5c9" stroke-width="1.5"/>
<rect x="49.25" y="136.45" width="17.00" height="10.80" fill="#fff" stroke="#36b5c9" stroke-width="1.5"/>
<rect x="59.50" y="192.75" width="16.50" height="10.75" fill="#fff" stroke="#36b5c9" stroke-width="1.5"/>
<rect x="328.75" y="206.25" width="10.25" height="10.50" fill="#fff" stroke="#36b5c9" stroke-width="1.5"/>
<rect x="451.00" y="230.00" width="16.75" height="11.00" fill="#fff" stroke="#36b5c9" stroke-width="1.5"/>
<rect x="218.25" y="255.25" width="10.75" height="10.75" fill="#fff" stroke="#36b5c9" stroke-width="1.5"/>
<rect x="553.50" y="254.50" width="5.25" height="10.25" fill="#fff" stroke="#36b5c9" stroke-width="1.5"/>
<rect x="562.75" y="273.25" width="11.00" height="11.00" fill="#fff" stroke="#36b5c9" stroke-width="1.5"/>
<rect x="468.00" y="273.25" width="11.00" height="9.75" fill="#fff" stroke="#36b5c9" stroke-width="1.5"/>
<rect x="448.00" y="319.50" width="16.00" height="11.00" fill="#fff" stroke="#36b5c9" stroke-width="1.5"/>
<rect x="122.75" y="330.25" width="16.50" height="11.00" fill="#fff" stroke="#36b5c9" stroke-width="1.5"/>
<rect x="59.50" y="362.75" width="16.00" height="10.75" fill="#fff" stroke="#36b5c9" stroke-width="1.5"/>
<rect x="124.50" y="361.25" width="10.50" height="11.00" fill="#fff" stroke="#36b5c9" stroke-width="1.5"/>
<rect x="512.75" y="347.00" width="10.50" height="9.75" fill="#fff" stroke="#36b5c9" stroke-width="1.5"/>
<rect x="528.50" y="353.25" width="11.00" height="10.25" fill="#fff" stroke="#36b5c9" stroke-width="1.5"/>
<rect x="577.25" y="387.50" width="16.00" height="10.50" fill="#fff" stroke="#36b5c9" stroke-width="1.5"/>
<rect x="200.75" y="398.25" width="5.75" height="11.00" fill="#fff" stroke="#36b5c9" stroke-width="1.5"/>
<rect x="113.75" y="415.00" width="16.00" height="11.00" fill="#fff" stroke="#36b5c9" stroke-width="1.5"/>
<rect x="144.00" y="426.50" width="16.00" height="11.00" fill="#fff" stroke="#36b5c9" stroke-width="1.5"/>
<rect x="172.50" y="429.50" width="15.50" height="10.25" fill="#fff" stroke="#36b5c9" stroke-width="1.5"/>
<rect x="468.00" y="436.50" width="4.75" height="10.75" fill="#fff" stroke="#36b5c9" stroke-width="1.5"/>
<rect x="473.95" y="464.25" width="16.40" height="10.30" fill="#fff" stroke="#36b5c9" stroke-width="1.5"/>
<rect x="455.50" y="487.00" width="16.75" height="9.75" fill="#fff" stroke="#36b5c9" stroke-width="1.5"/>
<rect x="514.75" y="492.00" width="16.00" height="10.50" fill="#fff" stroke="#36b5c9" stroke-width="1.5"/>
<rect x="59.00" y="507.00" width="10.25" height="10.50" fill="#fff" stroke="#36b5c9" stroke-width="1.5"/>
<rect x="75.00" y="513.25" width="16.75" height="11.00" fill="#fff" stroke="#36b5c9" stroke-width="1.5"/>
<rect x="193.00" y="502.50" width="10.50" height="11.00" fill="#fff" stroke="#36b5c9" stroke-width="1.5"/>
<rect x="386.75" y="518.25" width="10.50" height="10.25" fill="#fff" stroke="#36b5c9" stroke-width="1.5"/>
<rect x="388.00" y="554.50" width="16.50" height="10.50" fill="#fff" stroke="#36b5c9" stroke-width="1.5"/>
<rect x="51.85" y="564.00" width="5.70" height="11.45" fill="#fff" stroke="#36b5c9" stroke-width="1.5"/>
<rect x="480.05" y="567.25" width="16.20" height="11.00" fill="#fff" stroke="#36b5c9" stroke-width="1.5"/>
<rect x="519.00" y="599.00" width="16.00" height="10.75" fill="#fff" stroke="#36b5c9" stroke-width="1.5"/>
<rect x="487.50" y="617.00" width="10.50" height="10.50" fill="#fff" stroke="#36b5c9" stroke-width="1.5"/>
<rect x="297.00" y="637.00" width="11.00" height="10.50" fill="#fff" stroke="#36b5c9" stroke-width="1.5"/>
<rect x="356.75" y="623.25" width="10.50" height="10.50" fill="#fff" stroke="#36b5c9" stroke-width="1.5"/>
<rect x="280.75" y="669.00" width="11.50" height="11.00" fill="#fff" stroke="#36b5c9" stroke-width="1.5"/>
<rect x="438.00" y="665.25" width="10.50" height="10.25" fill="#fff" stroke="#36b5c9" stroke-width="1.5"/>
<rect x="438.00" y="681.50" width="10.50" height="10.25" fill="#fff" stroke="#36b5c9" stroke-width="1.5"/>
<rect x="437.50" y="697.75" width="10.25" height="10.25" fill="#fff" stroke="#36b5c9" stroke-width="1.5"/>
<rect x="490.75" y="685.75" width="4.25" height="11.00" fill="#fff" stroke="#36b5c9" stroke-width="1.5"/>
<rect x="243.95" y="503.45" width="10.80" height="11.20" fill="#fff" stroke="#36b5c9" stroke-width="1.5"/>
<rect x="262.95" y="543.15" width="11.40" height="10.90" fill="#fff" stroke="#36b5c9" stroke-width="1.5"/>
<rect x="312" y="144" width="20" height="17" fill="#ffff00"/>
<text x="260.80" y="64.50" font-size="10" font-weight="bold" text-anchor="middle">42</text>
<text x="165.45" y="95.95" font-size="10" font-weight="bold" text-anchor="middle">14</text>
<text x="243.05" y="103.95" font-size="10" font-weight="bold" text-anchor="middle">95</text>
<text x="216.80" y="131.07" font-size="10" font-weight="bold" text-anchor="middle">75</text>
<text x="467.55" y="89.08" font-size="10" font-weight="bold" text-anchor="middle">111</text>
<text x="574.70" y="119.80" font-size="10" font-weight="bold" text-anchor="middle">110</text>
<text x="380.30" y="124.95" font-size="10" font-weight="bold" text-anchor="middle">23</text>
<text x="368.30" y="143.57" font-size="10" font-weight="bold" text-anchor="middle">97</text>
<text x="379.80" y="159.95" font-size="10" font-weight="bold" text-anchor="middle">96</text>
<text x="458.18" y="148.07" font-size="10" font-weight="bold" text-anchor="middle">119</text>
<text x="459.18" y="169.45" font-size="10" font-weight="bold" text-anchor="middle">115</text>
<text x="467.55" y="190.70" font-size="10" font-weight="bold" text-anchor="middle">121</text>
<text x="468.05" y="205.45" font-size="10" font-weight="bold" text-anchor="middle">19</text>
<text x="507.80" y="235.07" font-size="10" font-weight="bold" text-anchor="middle">117</text>
<text x="535.55" y="230.82" font-size="10" font-weight="bold" text-anchor="middle">113</text>
<text x="58.05" y="145.55" font-size="10" font-weight="bold" text-anchor="middle">159</text>
<text x="68.05" y="201.82" font-size="10" font-weight="bold" text-anchor="middle">160</text>
<text x="334.18" y="215.20" font-size="10" font-weight="bold" text-anchor="middle">84</text>
<text x="459.68" y="239.20" font-size="10" font-weight="bold" text-anchor="middle">154</text>
<text x="223.93" y="264.32" font-size="10" font-weight="bold" text-anchor="middle">76</text>
<text x="556.42" y="263.32" font-size="10" font-weight="bold" text-anchor="middle">5</text>
<text x="568.55" y="282.45" font-size="10" font-weight="bold" text-anchor="middle">94</text>
<text x="473.80" y="281.82" font-size="10" font-weight="bold" text-anchor="middle">20</text>
<text x="456.30" y="328.70" font-size="10" font-weight="bold" text-anchor="middle">250</text>
<text x="131.30" y="339.45" font-size="10" font-weight="bold" text-anchor="middle">146</text>
<text x="67.80" y="371.82" font-size="10" font-weight="bold" text-anchor="middle">145</text>
<text x="130.05" y="370.45" font-size="10" font-weight="bold" text-anchor="middle">98</text>
<text x="518.30" y="355.57" font-size="10" font-weight="bold" text-anchor="middle">16</text>
<text x="534.30" y="362.07" font-size="10" font-weight="bold" text-anchor="middle">91</text>
<text x="585.55" y="396.45" font-size="10" font-weight="bold" text-anchor="middle">127</text>
<text x="203.93" y="407.45" font-size="10" font-weight="bold" text-anchor="middle">3</text>
<text x="122.05" y="424.20" font-size="10" font-weight="bold" text-anchor="middle">129</text>
<text x="152.30" y="435.70" font-size="10" font-weight="bold" text-anchor="middle">130</text>
<text x="180.55" y="438.32" font-size="10" font-weight="bold" text-anchor="middle">131</text>
<text x="470.68" y="445.57" font-size="10" font-weight="bold" text-anchor="middle">1</text>
<text x="482.45" y="473.10" font-size="10" font-weight="bold" text-anchor="middle">161</text>
<text x="464.18" y="495.57" font-size="10" font-weight="bold" text-anchor="middle">128</text>
<text x="523.05" y="500.95" font-size="10" font-weight="bold" text-anchor="middle">163</text>
<text x="64.42" y="515.95" font-size="10" font-weight="bold" text-anchor="middle">72</text>
<text x="83.67" y="522.45" font-size="10" font-weight="bold" text-anchor="middle">100</text>
<text x="198.55" y="511.70" font-size="10" font-weight="bold" text-anchor="middle">99</text>
<text x="392.30" y="527.08" font-size="10" font-weight="bold" text-anchor="middle">45</text>
<text x="396.55" y="563.45" font-size="10" font-weight="bold" text-anchor="middle">124</text>
<text x="55.00" y="573.43" font-size="10" font-weight="bold" text-anchor="middle">2</text>
<text x="488.45" y="576.45" font-size="10" font-weight="bold" text-anchor="middle">162</text>
<text x="527.30" y="608.08" font-size="10" font-weight="bold" text-anchor="middle">104</text>
<text x="493.05" y="625.95" font-size="10" font-weight="bold" text-anchor="middle">11</text>
<text x="302.80" y="645.95" font-size="10" font-weight="bold" text-anchor="middle">35</text>
<text x="362.30" y="632.20" font-size="10" font-weight="bold" text-anchor="middle">85</text>
<text x="286.80" y="678.20" font-size="10" font-weight="bold" text-anchor="middle">47</text>
<text x="443.55" y="674.08" font-size="10" font-weight="bold" text-anchor="middle">88</text>
<text x="443.55" y="690.33" font-size="10" font-weight="bold" text-anchor="middle">87</text>
<text x="442.93" y="706.58" font-size="10" font-weight="bold" text-anchor="middle">86</text>
<text x="493.18" y="694.95" font-size="10" font-weight="bold" text-anchor="middle">2</text>
<text x="249.65" y="512.75" font-size="10" font-weight="bold" text-anchor="middle">33</text>
<text x="268.95" y="552.30" font-size="10" font-weight="bold" text-anchor="middle">34</text>
<text x="428.50" y="66.10" font-size="10" font-weight="bold" text-anchor="middle">13</text>
<text x="66.50" y="93.10" font-size="10" font-weight="bold" text-anchor="middle">2</text>
<text x="265.88" y="94.10" font-size="10" font-weight="bold" text-anchor="middle">43</text>
<text x="317.75" y="86.10" font-size="10" font-weight="bold" text-anchor="middle">17</text>
<text x="176.00" y="126.10" font-size="10" font-weight="bold" text-anchor="middle">16</text>
<text x="179.62" y="161.35" font-size="10" font-weight="bold" text-anchor="middle">127</text>
<text x="212.50" y="162.10" font-size="10" font-weight="bold" text-anchor="middle">128</text>
<text x="256.38" y="183.10" font-size="10" font-weight="bold" text-anchor="middle">20</text>
<text x="319.62" y="180.60" font-size="10" font-weight="bold" text-anchor="middle">20</text>
<text x="234.50" y="187.60" font-size="10" font-weight="bold" text-anchor="middle">91</text>
<text x="247.50" y="200.10" font-size="10" font-weight="bold" text-anchor="middle">16</text>
<text x="433.88" y="101.35" font-size="10" font-weight="bold" text-anchor="middle">110</text>
<text x="368.50" y="179.60" font-size="10" font-weight="bold" text-anchor="middle">75</text>
<text x="376.25" y="201.10" font-size="10" font-weight="bold" text-anchor="middle">14</text>
<text x="550.00" y="82.10" font-size="10" font-weight="bold" text-anchor="middle">119</text>
<text x="566.62" y="194.35" font-size="10" font-weight="bold" text-anchor="middle">117</text>
<text x="116.00" y="152.60" font-size="10" font-weight="bold" text-anchor="middle">117</text>
<text x="80.62" y="244.35" font-size="10" font-weight="bold" text-anchor="middle">163</text>
<text x="105.88" y="287.60" font-size="10" font-weight="bold" text-anchor="middle">127</text>
<text x="122.12" y="317.10" font-size="10" font-weight="bold" text-anchor="middle">128</text>
<text x="157.00" y="323.10" font-size="10" font-weight="bold" text-anchor="middle">91</text>
<text x="176.38" y="327.10" font-size="10" font-weight="bold" text-anchor="middle">16</text>
<text x="233.00" y="243.10" font-size="10" font-weight="bold" text-anchor="middle">11</text>
<text x="192.75" y="270.85" font-size="10" font-weight="bold" text-anchor="middle">154</text>
<text x="360.75" y="219.35" font-size="10" font-weight="bold" text-anchor="middle">20</text>
<text x="387.25" y="247.60" font-size="10" font-weight="bold" text-anchor="middle">250</text>
<text x="327.25" y="235.10" font-size="10" font-weight="bold" text-anchor="middle">250</text>
<text x="555.62" y="221.85" font-size="10" font-weight="bold" text-anchor="middle">101</text>
<text x="419.12" y="307.60" font-size="10" font-weight="bold" text-anchor="middle">250</text>
<text x="488.50" y="291.60" font-size="10" font-weight="bold" text-anchor="middle">20</text>
<text x="498.25" y="321.60" font-size="10" font-weight="bold" text-anchor="middle">250</text>
<text x="567.12" y="367.60" font-size="10" font-weight="bold" text-anchor="middle">128</text>
<text x="552.75" y="434.35" font-size="10" font-weight="bold" text-anchor="middle">117</text>
<text x="578.38" y="450.60" font-size="10" font-weight="bold" text-anchor="middle">117</text>
<text x="232.75" y="457.10" font-size="10" font-weight="bold" text-anchor="middle">98</text>
<text x="418.25" y="475.10" font-size="10" font-weight="bold" text-anchor="middle">16</text>
<text x="431.00" y="488.85" font-size="10" font-weight="bold" text-anchor="middle">91</text>
<text x="448.50" y="558.85" font-size="10" font-weight="bold" text-anchor="middle">127</text>
<text x="509.88" y="516.35" font-size="10" font-weight="bold" text-anchor="middle">117</text>
<text x="550.12" y="593.10" font-size="10" font-weight="bold" text-anchor="middle">163</text>
<text x="194.50" y="596.35" font-size="10" font-weight="bold" text-anchor="middle">100</text>
<text x="319.30" y="156.80" font-size="10" font-weight="bold" text-anchor="middle">19</text>
<g transform="translate(53.6,712.2) scale(0.8,1)"><text x="0" y="0" font-size="11" font-weight="normal">_70_r1</text></g>
<path d="M53.6,704.5 V712" stroke="#333" stroke-width="0.6" stroke-dasharray="3 1.2"/>
<g style="mix-blend-mode:multiply"><path d="M237,507 L243.5,507 L243.5,505.5 L255.5,505.5 L255.5,503 L261,503 L261,521 L258,521 L258,522.5 L249,522.5 L249,524 L237,524 Z" fill="#ffff00"/><rect x="259" y="540" width="18" height="16" fill="#ffff00"/></g>
<rect x="0" y="0" width="652" height="61" fill="#fff"/>
<rect x="0" y="0" width="53" height="800" fill="#fff"/>
</svg></body></html>
